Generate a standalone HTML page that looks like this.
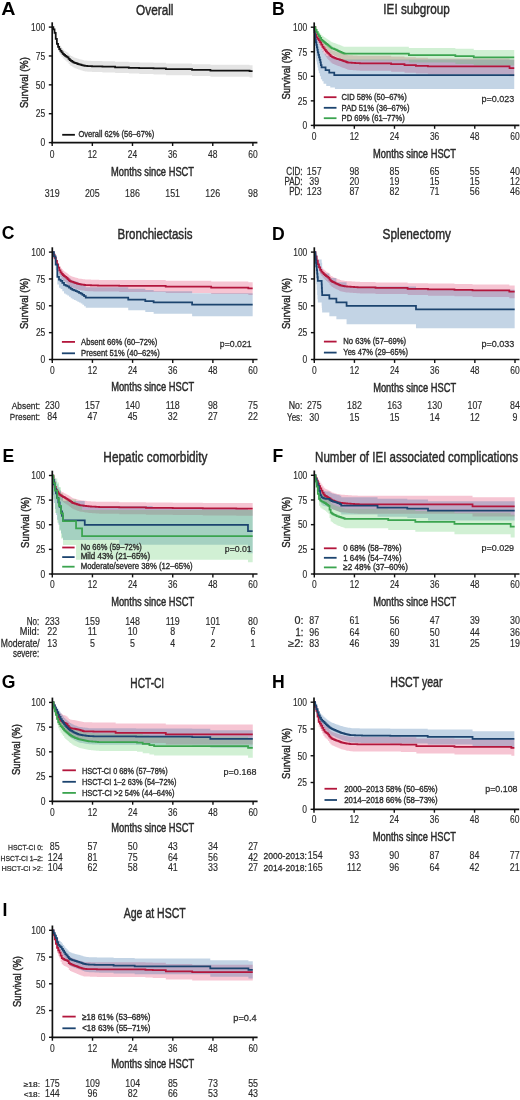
<!DOCTYPE html>
<html><head><meta charset="utf-8"><style>
html,body{margin:0;padding:0;background:#fff;width:520px;height:1100px;overflow:hidden}
svg{display:block;will-change:transform;font-family:"Liberation Sans",sans-serif}
</style></head><body>
<svg width="520" height="1100" viewBox="0 0 520 1100">
<rect width="520" height="1100" fill="#fff"/>
<path d="M52.20,27.10H53.37V28.02H54.54V30.80H55.71V35.94H56.88V40.40H58.05V43.08H59.22V45.17H60.40V46.79H61.57V48.19H62.74V49.49H63.91V50.39H65.08V51.28H66.25V52.03H67.42V52.71H68.59V54.14H69.76V55.36H70.93V55.98H72.10V56.60H73.27V57.23H74.44V57.75H75.61V58.12H76.79V58.48H77.96V58.85H79.13V59.20H80.30V59.50H81.47V59.81H82.64V60.11H83.81V60.40H84.98V60.50H86.15V60.61H87.32V60.71H88.49V60.81H89.66V60.85H90.83V60.89H92.01V60.92H93.18V60.96H94.35V61.00H102.38V61.32H115.09V61.84H128.80V62.24H139.17V62.54H153.55V62.84H165.93V63.46H192.02V64.16H210.42V64.66H249.56V65.22H252.57V77.57H249.56V76.74H210.42V76.08H192.02V75.15H165.93V74.39H153.55V73.98H139.17V73.59H128.80V73.07H115.09V72.42H102.38V72.01H94.35V71.96H93.18V71.91H92.01V71.87H90.83V71.82H89.66V71.77H88.49V71.65H87.32V71.52H86.15V71.40H84.98V71.28H83.81V70.94H82.64V70.58H81.47V70.23H80.30V69.87H79.13V69.46H77.96V69.04H76.79V68.61H75.61V68.18H74.44V67.57H73.27V66.84H72.10V66.11H70.93V65.38H69.76V63.96H68.59V62.28H67.42V61.48H66.25V60.60H65.08V59.54H63.91V58.48H62.74V56.93H61.57V55.26H60.40V53.32H59.22V50.79H58.05V47.50H56.88V41.88H55.71V34.94H54.54V30.56H53.37V27.10H52.20Z" fill="rgba(0,0,0,0.105)"/>
<path d="M52.20,27.10H53.37V29.25H54.54V32.81H55.71V38.83H56.88V43.85H58.05V46.83H59.22V49.13H60.40V50.90H61.57V52.44H62.74V53.86H63.91V54.84H65.08V55.81H66.25V56.62H67.42V57.36H68.59V58.91H69.76V60.23H70.93V60.90H72.10V61.58H73.27V62.25H74.44V62.82H75.61V63.22H76.79V63.61H77.96V64.01H79.13V64.39H80.30V64.72H81.47V65.05H82.64V65.38H83.81V65.69H84.98V65.80H86.15V65.91H87.32V66.03H88.49V66.14H89.66V66.18H90.83V66.22H92.01V66.26H93.18V66.30H94.35V66.35H102.38V66.72H115.09V67.29H128.80V67.76H139.17V68.10H153.55V68.45H165.93V69.14H192.02V69.95H210.42V70.53H249.56V71.22H252.57" fill="none" stroke="#111" stroke-width="1.75" stroke-linejoin="miter"/>
<line x1="52.20" y1="22.30" x2="52.20" y2="143.45" stroke="#111" stroke-width="1.7"/>
<line x1="51.35" y1="142.60" x2="257.40" y2="142.60" stroke="#111" stroke-width="1.7"/>
<line x1="48.80" y1="142.60" x2="52.20" y2="142.60" stroke="#111" stroke-width="1.4"/>
<text transform="translate(45.20,146.35) scale(0.7900,1)" font-size="10.7" text-anchor="end" fill="#2a2a2a" stroke="#2a2a2a" stroke-width="0.15">0</text>
<line x1="48.80" y1="113.72" x2="52.20" y2="113.72" stroke="#111" stroke-width="1.4"/>
<text transform="translate(45.20,117.47) scale(0.7900,1)" font-size="10.7" text-anchor="end" fill="#2a2a2a" stroke="#2a2a2a" stroke-width="0.15">25</text>
<line x1="48.80" y1="84.85" x2="52.20" y2="84.85" stroke="#111" stroke-width="1.4"/>
<text transform="translate(45.20,88.60) scale(0.7900,1)" font-size="10.7" text-anchor="end" fill="#2a2a2a" stroke="#2a2a2a" stroke-width="0.15">50</text>
<line x1="48.80" y1="55.97" x2="52.20" y2="55.97" stroke="#111" stroke-width="1.4"/>
<text transform="translate(45.20,59.72) scale(0.7900,1)" font-size="10.7" text-anchor="end" fill="#2a2a2a" stroke="#2a2a2a" stroke-width="0.15">75</text>
<line x1="48.80" y1="27.10" x2="52.20" y2="27.10" stroke="#111" stroke-width="1.4"/>
<text transform="translate(45.20,30.85) scale(0.7900,1)" font-size="10.7" text-anchor="end" fill="#2a2a2a" stroke="#2a2a2a" stroke-width="0.15">100</text>
<line x1="52.20" y1="142.60" x2="52.20" y2="146.00" stroke="#111" stroke-width="1.4"/>
<text transform="translate(52.20,157.60) scale(0.7900,1)" font-size="10.7" text-anchor="middle" fill="#2a2a2a" stroke="#2a2a2a" stroke-width="0.15">0</text>
<line x1="92.34" y1="142.60" x2="92.34" y2="146.00" stroke="#111" stroke-width="1.4"/>
<text transform="translate(92.34,157.60) scale(0.7900,1)" font-size="10.7" text-anchor="middle" fill="#2a2a2a" stroke="#2a2a2a" stroke-width="0.15">12</text>
<line x1="132.48" y1="142.60" x2="132.48" y2="146.00" stroke="#111" stroke-width="1.4"/>
<text transform="translate(132.48,157.60) scale(0.7900,1)" font-size="10.7" text-anchor="middle" fill="#2a2a2a" stroke="#2a2a2a" stroke-width="0.15">24</text>
<line x1="172.62" y1="142.60" x2="172.62" y2="146.00" stroke="#111" stroke-width="1.4"/>
<text transform="translate(172.62,157.60) scale(0.7900,1)" font-size="10.7" text-anchor="middle" fill="#2a2a2a" stroke="#2a2a2a" stroke-width="0.15">36</text>
<line x1="212.76" y1="142.60" x2="212.76" y2="146.00" stroke="#111" stroke-width="1.4"/>
<text transform="translate(212.76,157.60) scale(0.7900,1)" font-size="10.7" text-anchor="middle" fill="#2a2a2a" stroke="#2a2a2a" stroke-width="0.15">48</text>
<line x1="252.90" y1="142.60" x2="252.90" y2="146.00" stroke="#111" stroke-width="1.4"/>
<text transform="translate(252.90,157.60) scale(0.7900,1)" font-size="10.7" text-anchor="middle" fill="#2a2a2a" stroke="#2a2a2a" stroke-width="0.15">60</text>
<text transform="translate(27.90,82.55) rotate(-90) scale(0.8602,1)" font-size="11" text-anchor="middle" fill="#2a2a2a" stroke="#2a2a2a" stroke-width="0.45">Survival (%)</text>
<text transform="translate(152.55,175.90) scale(0.7779,1)" font-size="12" text-anchor="middle" fill="#2a2a2a" stroke="#2a2a2a" stroke-width="0.45">Months since HSCT</text>
<text transform="translate(1.30,14.80) scale(1.1200,1)" font-size="17.6" text-anchor="start" fill="#000" font-weight="bold">A</text>
<text transform="translate(154.80,14.60) scale(0.7871,1)" font-size="15" text-anchor="middle" fill="#2a2a2a" stroke="#2a2a2a" stroke-width="0.45">Overall</text>
<line x1="62.20" y1="134.80" x2="74.90" y2="134.80" stroke="#111" stroke-width="1.8"/>
<text transform="translate(78.50,137.00) scale(0.8371,1)" font-size="9" text-anchor="start" fill="#2a2a2a" stroke="#2a2a2a" stroke-width="0.35">Overall 62% (56–67%)</text>
<text transform="translate(52.20,196.80) scale(0.8300,1)" font-size="10.7" text-anchor="middle" fill="#2a2a2a" stroke="#2a2a2a" stroke-width="0.15">319</text>
<text transform="translate(92.34,196.80) scale(0.8300,1)" font-size="10.7" text-anchor="middle" fill="#2a2a2a" stroke="#2a2a2a" stroke-width="0.15">205</text>
<text transform="translate(132.48,196.80) scale(0.8300,1)" font-size="10.7" text-anchor="middle" fill="#2a2a2a" stroke="#2a2a2a" stroke-width="0.15">186</text>
<text transform="translate(172.62,196.80) scale(0.8300,1)" font-size="10.7" text-anchor="middle" fill="#2a2a2a" stroke="#2a2a2a" stroke-width="0.15">151</text>
<text transform="translate(212.76,196.80) scale(0.8300,1)" font-size="10.7" text-anchor="middle" fill="#2a2a2a" stroke="#2a2a2a" stroke-width="0.15">126</text>
<text transform="translate(252.90,196.80) scale(0.8300,1)" font-size="10.7" text-anchor="middle" fill="#2a2a2a" stroke="#2a2a2a" stroke-width="0.15">98</text>
<path d="M314.20,27.20H315.37V31.04H316.54V33.48H317.71V34.72H318.88V35.98H320.05V37.52H321.22V39.43H322.40V41.35H323.57V42.71H324.74V43.98H325.91V45.26H327.08V46.37H328.25V47.37H329.42V48.37H330.59V49.37H331.76V50.13H332.93V50.57H334.10V51.00H335.27V51.43H336.44V51.81H337.61V52.13H338.79V52.44H339.96V52.75H341.13V53.08H342.30V53.46H343.47V53.83H344.64V54.20H345.81V54.57H346.98V54.94H348.15V55.18H349.32V55.24H350.49V55.30H351.66V55.36H352.83V55.43H354.01V55.49H355.18V55.55H356.35V55.61H357.52V55.67H358.69V55.73H359.86V55.79H361.03V55.85H391.13V56.53H404.51V57.37H415.89V57.87H427.93V58.45H509.55V59.62H514.23V76.28H509.55V74.32H427.93V73.53H415.89V72.85H404.51V71.74H391.13V70.72H361.03V70.64H359.86V70.55H358.69V70.47H357.52V70.39H356.35V70.31H355.18V70.23H354.01V70.14H352.83V70.06H351.66V69.98H350.49V69.90H349.32V69.81H348.15V69.51H346.98V69.05H345.81V68.58H344.64V68.12H343.47V67.65H342.30V67.18H341.13V66.77H339.96V66.37H338.79V65.97H337.61V65.58H336.44V65.09H335.27V64.55H334.10V64.00H332.93V63.45H331.76V62.49H330.59V61.22H329.42V59.95H328.25V58.67H327.08V57.24H325.91V55.59H324.74V53.93H323.57V52.14H322.40V49.57H321.22V46.98H320.05V44.85H318.88V43.05H317.71V41.24H316.54V37.52H315.37V27.20H314.20Z" fill="rgba(226,62,108,0.30)"/>
<path d="M314.20,27.20H314.53V27.20H314.87V29.16H315.54V32.11H316.37V35.06H316.88V38.00H317.55V39.97H318.21V41.93H318.88V43.89H319.89V46.84H320.89V48.80H322.23V50.77H323.57V53.71H326.24V55.68H330.26V57.64H334.94V59.61H514.23V89.07H334.94V87.59H330.26V86.12H326.24V83.67H323.57V81.21H322.23V79.25H320.89V76.30H319.89V73.35H318.88V70.41H318.21V67.46H317.55V64.52H316.88V61.57H316.37V58.62H315.87V55.68H315.54V51.75H315.20V48.80H314.87V42.91H314.53V37.02H314.37V27.20H314.20Z" fill="rgba(40,100,160,0.28)"/>
<path d="M314.20,27.20H315.37V27.70H316.54V29.23H317.71V30.90H318.88V32.30H320.05V33.71H321.22V35.15H322.40V36.12H323.57V36.90H324.74V37.69H325.91V38.48H327.08V39.28H328.25V40.07H329.42V40.86H330.59V41.66H331.76V42.27H332.93V42.68H334.10V43.10H335.27V43.51H336.44V43.95H337.61V44.41H338.79V44.87H339.96V45.34H341.13V45.80H342.30V46.27H343.47V46.73H344.64V46.80H345.81V46.79H346.98V46.79H408.86V48.01H455.36V48.83H473.76V49.90H514.23V65.38H473.76V63.89H455.36V62.54H408.86V60.59H346.98V60.59H345.81V60.58H344.64V60.49H343.47V59.88H342.30V59.26H341.13V58.65H339.96V58.03H338.79V57.42H337.61V56.80H336.44V56.22H335.27V55.66H334.10V55.10H332.93V54.54H331.76V53.71H330.59V52.63H329.42V51.54H328.25V50.45H327.08V49.35H325.91V48.24H324.74V47.12H323.57V46.00H322.40V44.59H321.22V42.45H320.05V40.28H318.88V38.02H317.71V35.11H316.54V31.96H315.37V27.20H314.20Z" fill="rgba(90,200,100,0.28)"/>
<path d="M314.20,27.20H315.37V34.32H316.54V37.40H317.71V38.93H318.88V40.47H320.05V42.31H321.22V44.56H322.40V46.81H323.57V48.39H324.74V49.85H325.91V51.32H327.08V52.60H328.25V53.73H329.42V54.87H330.59V56.01H331.76V56.87H332.93V57.36H334.10V57.85H335.27V58.34H336.44V58.78H337.61V59.13H338.79V59.49H339.96V59.84H341.13V60.22H342.30V60.64H343.47V61.06H344.64V61.47H345.81V61.89H346.98V62.31H348.15V62.58H349.32V62.65H350.49V62.73H351.66V62.80H352.83V62.87H354.01V62.94H355.18V63.01H356.35V63.09H357.52V63.16H358.69V63.23H359.86V63.30H361.03V63.37H391.13V64.22H404.51V65.20H415.89V65.79H427.93V66.48H509.55V68.05H514.23" fill="none" stroke="#b3163c" stroke-width="1.75" stroke-linejoin="miter"/>
<path d="M314.20,27.20H314.37V29.75H314.53V32.21H314.87V34.76H315.20V37.31H315.54V39.77H315.87V42.32H316.37V44.78H316.88V47.33H317.38V49.88H317.81V52.34H318.38V54.89H319.05V57.45H319.72V59.90H320.39V62.45H320.89V65.01H321.56V67.46H325.57V70.02H329.25V72.57H334.27V75.02H514.23" fill="none" stroke="#1c446f" stroke-width="1.75" stroke-linejoin="miter"/>
<path d="M314.20,27.20H315.37V29.78H316.54V32.10H317.71V34.37H318.88V36.19H320.05V37.97H321.22V39.75H322.40V40.94H323.57V41.89H324.74V42.83H325.91V43.78H327.08V44.72H328.25V45.66H329.42V46.60H330.59V47.54H331.76V48.25H332.93V48.74H334.10V49.22H335.27V49.71H336.44V50.21H337.61V50.75H338.79V51.29H339.96V51.83H341.13V52.36H342.30V52.90H343.47V53.44H344.64V53.52H345.81V53.52H346.98V53.52H408.86V55.09H455.36V56.17H473.76V57.45H514.23" fill="none" stroke="#3ba44f" stroke-width="1.75" stroke-linejoin="miter"/>
<line x1="314.20" y1="22.40" x2="314.20" y2="126.25" stroke="#111" stroke-width="1.7"/>
<line x1="313.35" y1="125.40" x2="519.40" y2="125.40" stroke="#111" stroke-width="1.7"/>
<line x1="310.80" y1="125.40" x2="314.20" y2="125.40" stroke="#111" stroke-width="1.4"/>
<text transform="translate(307.20,129.15) scale(0.7900,1)" font-size="10.7" text-anchor="end" fill="#2a2a2a" stroke="#2a2a2a" stroke-width="0.15">0</text>
<line x1="310.80" y1="100.85" x2="314.20" y2="100.85" stroke="#111" stroke-width="1.4"/>
<text transform="translate(307.20,104.60) scale(0.7900,1)" font-size="10.7" text-anchor="end" fill="#2a2a2a" stroke="#2a2a2a" stroke-width="0.15">25</text>
<line x1="310.80" y1="76.30" x2="314.20" y2="76.30" stroke="#111" stroke-width="1.4"/>
<text transform="translate(307.20,80.05) scale(0.7900,1)" font-size="10.7" text-anchor="end" fill="#2a2a2a" stroke="#2a2a2a" stroke-width="0.15">50</text>
<line x1="310.80" y1="51.75" x2="314.20" y2="51.75" stroke="#111" stroke-width="1.4"/>
<text transform="translate(307.20,55.50) scale(0.7900,1)" font-size="10.7" text-anchor="end" fill="#2a2a2a" stroke="#2a2a2a" stroke-width="0.15">75</text>
<line x1="310.80" y1="27.20" x2="314.20" y2="27.20" stroke="#111" stroke-width="1.4"/>
<text transform="translate(307.20,30.95) scale(0.7900,1)" font-size="10.7" text-anchor="end" fill="#2a2a2a" stroke="#2a2a2a" stroke-width="0.15">100</text>
<line x1="314.20" y1="125.40" x2="314.20" y2="128.80" stroke="#111" stroke-width="1.4"/>
<text transform="translate(314.20,140.40) scale(0.7900,1)" font-size="10.7" text-anchor="middle" fill="#2a2a2a" stroke="#2a2a2a" stroke-width="0.15">0</text>
<line x1="354.34" y1="125.40" x2="354.34" y2="128.80" stroke="#111" stroke-width="1.4"/>
<text transform="translate(354.34,140.40) scale(0.7900,1)" font-size="10.7" text-anchor="middle" fill="#2a2a2a" stroke="#2a2a2a" stroke-width="0.15">12</text>
<line x1="394.48" y1="125.40" x2="394.48" y2="128.80" stroke="#111" stroke-width="1.4"/>
<text transform="translate(394.48,140.40) scale(0.7900,1)" font-size="10.7" text-anchor="middle" fill="#2a2a2a" stroke="#2a2a2a" stroke-width="0.15">24</text>
<line x1="434.62" y1="125.40" x2="434.62" y2="128.80" stroke="#111" stroke-width="1.4"/>
<text transform="translate(434.62,140.40) scale(0.7900,1)" font-size="10.7" text-anchor="middle" fill="#2a2a2a" stroke="#2a2a2a" stroke-width="0.15">36</text>
<line x1="474.76" y1="125.40" x2="474.76" y2="128.80" stroke="#111" stroke-width="1.4"/>
<text transform="translate(474.76,140.40) scale(0.7900,1)" font-size="10.7" text-anchor="middle" fill="#2a2a2a" stroke="#2a2a2a" stroke-width="0.15">48</text>
<line x1="514.90" y1="125.40" x2="514.90" y2="128.80" stroke="#111" stroke-width="1.4"/>
<text transform="translate(514.90,140.40) scale(0.7900,1)" font-size="10.7" text-anchor="middle" fill="#2a2a2a" stroke="#2a2a2a" stroke-width="0.15">60</text>
<text transform="translate(289.90,74.00) rotate(-90) scale(0.8602,1)" font-size="11" text-anchor="middle" fill="#2a2a2a" stroke="#2a2a2a" stroke-width="0.45">Survival (%)</text>
<text transform="translate(414.55,157.50) scale(0.7779,1)" font-size="12" text-anchor="middle" fill="#2a2a2a" stroke="#2a2a2a" stroke-width="0.45">Months since HSCT</text>
<text transform="translate(272.10,14.80) scale(1.0000,1)" font-size="17.6" text-anchor="start" fill="#000" font-weight="bold">B</text>
<text transform="translate(416.50,14.40) scale(0.7806,1)" font-size="15" text-anchor="middle" fill="#2a2a2a" stroke="#2a2a2a" stroke-width="0.45">IEI subgroup</text>
<line x1="323.80" y1="97.20" x2="336.50" y2="97.20" stroke="#b3163c" stroke-width="1.8"/>
<text transform="translate(341.60,100.40) scale(0.8422,1)" font-size="9" text-anchor="start" fill="#2a2a2a" stroke="#2a2a2a" stroke-width="0.35">CID 58% (50–67%)</text>
<line x1="323.80" y1="107.80" x2="336.50" y2="107.80" stroke="#1c446f" stroke-width="1.8"/>
<text transform="translate(341.60,110.70) scale(0.8501,1)" font-size="9" text-anchor="start" fill="#2a2a2a" stroke="#2a2a2a" stroke-width="0.35">PAD 51% (36–67%)</text>
<line x1="323.80" y1="118.20" x2="336.50" y2="118.20" stroke="#3ba44f" stroke-width="1.8"/>
<text transform="translate(341.60,121.00) scale(0.8492,1)" font-size="9" text-anchor="start" fill="#2a2a2a" stroke="#2a2a2a" stroke-width="0.35">PD 69% (61–77%)</text>
<text transform="translate(497.95,101.50) scale(0.9507,1)" font-size="9.5" text-anchor="middle" fill="#2a2a2a" stroke="#2a2a2a" stroke-width="0.25">p=0.023</text>
<text transform="translate(286.30,174.50) scale(0.8150,1)" font-size="10" text-anchor="start" fill="#2a2a2a" stroke="#2a2a2a" stroke-width="0.25">CID:</text>
<text transform="translate(314.20,174.50) scale(0.8300,1)" font-size="10.7" text-anchor="middle" fill="#2a2a2a" stroke="#2a2a2a" stroke-width="0.15">157</text>
<text transform="translate(354.34,174.50) scale(0.8300,1)" font-size="10.7" text-anchor="middle" fill="#2a2a2a" stroke="#2a2a2a" stroke-width="0.15">98</text>
<text transform="translate(394.48,174.50) scale(0.8300,1)" font-size="10.7" text-anchor="middle" fill="#2a2a2a" stroke="#2a2a2a" stroke-width="0.15">85</text>
<text transform="translate(434.62,174.50) scale(0.8300,1)" font-size="10.7" text-anchor="middle" fill="#2a2a2a" stroke="#2a2a2a" stroke-width="0.15">65</text>
<text transform="translate(474.76,174.50) scale(0.8300,1)" font-size="10.7" text-anchor="middle" fill="#2a2a2a" stroke="#2a2a2a" stroke-width="0.15">55</text>
<text transform="translate(514.90,174.50) scale(0.8300,1)" font-size="10.7" text-anchor="middle" fill="#2a2a2a" stroke="#2a2a2a" stroke-width="0.15">40</text>
<text transform="translate(284.40,185.10) scale(0.8054,1)" font-size="10" text-anchor="start" fill="#2a2a2a" stroke="#2a2a2a" stroke-width="0.25">PAD:</text>
<text transform="translate(314.20,185.10) scale(0.8300,1)" font-size="10.7" text-anchor="middle" fill="#2a2a2a" stroke="#2a2a2a" stroke-width="0.15">39</text>
<text transform="translate(354.34,185.10) scale(0.8300,1)" font-size="10.7" text-anchor="middle" fill="#2a2a2a" stroke="#2a2a2a" stroke-width="0.15">20</text>
<text transform="translate(394.48,185.10) scale(0.8300,1)" font-size="10.7" text-anchor="middle" fill="#2a2a2a" stroke="#2a2a2a" stroke-width="0.15">19</text>
<text transform="translate(434.62,185.10) scale(0.8300,1)" font-size="10.7" text-anchor="middle" fill="#2a2a2a" stroke="#2a2a2a" stroke-width="0.15">15</text>
<text transform="translate(474.76,185.10) scale(0.8300,1)" font-size="10.7" text-anchor="middle" fill="#2a2a2a" stroke="#2a2a2a" stroke-width="0.15">15</text>
<text transform="translate(514.90,185.10) scale(0.8300,1)" font-size="10.7" text-anchor="middle" fill="#2a2a2a" stroke="#2a2a2a" stroke-width="0.15">12</text>
<text transform="translate(289.20,195.40) scale(0.8038,1)" font-size="10" text-anchor="start" fill="#2a2a2a" stroke="#2a2a2a" stroke-width="0.25">PD:</text>
<text transform="translate(314.20,195.40) scale(0.8300,1)" font-size="10.7" text-anchor="middle" fill="#2a2a2a" stroke="#2a2a2a" stroke-width="0.15">123</text>
<text transform="translate(354.34,195.40) scale(0.8300,1)" font-size="10.7" text-anchor="middle" fill="#2a2a2a" stroke="#2a2a2a" stroke-width="0.15">87</text>
<text transform="translate(394.48,195.40) scale(0.8300,1)" font-size="10.7" text-anchor="middle" fill="#2a2a2a" stroke="#2a2a2a" stroke-width="0.15">82</text>
<text transform="translate(434.62,195.40) scale(0.8300,1)" font-size="10.7" text-anchor="middle" fill="#2a2a2a" stroke="#2a2a2a" stroke-width="0.15">71</text>
<text transform="translate(474.76,195.40) scale(0.8300,1)" font-size="10.7" text-anchor="middle" fill="#2a2a2a" stroke="#2a2a2a" stroke-width="0.15">56</text>
<text transform="translate(514.90,195.40) scale(0.8300,1)" font-size="10.7" text-anchor="middle" fill="#2a2a2a" stroke="#2a2a2a" stroke-width="0.15">46</text>
<path d="M52.30,252.10H53.47V253.30H54.64V255.53H55.81V257.95H56.98V260.98H58.15V263.80H59.32V266.29H60.50V267.99H61.67V269.37H62.84V270.59H64.01V271.38H65.18V272.17H66.35V272.97H67.52V274.05H68.69V275.13H69.86V275.84H71.03V276.26H72.20V276.68H73.37V277.10H74.54V277.48H75.71V277.80H76.89V278.11H78.06V278.43H79.23V278.68H80.40V278.83H81.57V278.98H82.74V279.13H83.91V279.29H85.08V279.44H86.25V279.51H87.42V279.54H88.59V279.58H89.76V279.62H90.93V279.65H92.11V279.69H93.28V279.73H94.45V279.76H95.62V279.80H96.79V279.84H97.96V279.87H99.13V279.91H119.20V280.10H165.70V280.79H211.19V281.48H248.32V282.18H252.67V295.05H248.32V294.03H211.19V292.98H165.70V291.94H119.20V291.62H99.13V291.57H97.96V291.52H96.79V291.48H95.62V291.43H94.45V291.38H93.28V291.33H92.11V291.28H90.93V291.23H89.76V291.18H88.59V291.13H87.42V291.08H86.25V290.99H85.08V290.81H83.91V290.62H82.74V290.43H81.57V290.24H80.40V290.06H79.23V289.76H78.06V289.37H76.89V288.99H75.71V288.61H74.54V288.15H73.37V287.64H72.20V287.12H71.03V286.61H69.86V285.75H68.69V284.44H67.52V283.12H66.35V282.15H65.18V281.17H64.01V280.19H62.84V278.68H61.67V276.96H60.50V274.82H59.32V271.65H58.15V267.96H56.98V263.83H55.81V260.30H54.64V256.65H53.47V252.10H52.30Z" fill="rgba(226,62,108,0.30)"/>
<path d="M52.30,252.10H53.97V253.25H55.64V259.18H57.32V269.38H58.99V271.72H60.66V272.64H62.33V274.48H64.01V276.11H65.68V276.82H67.35V277.54H69.02V278.59H70.70V279.64H72.37V280.41H74.04V281.01H75.72V281.61H77.39V282.33H79.06V283.07H80.73V283.82H82.41V284.75H84.08V285.96H85.75V287.18H128.23V288.84H145.29V290.11H153.65V291.31H192.12V293.16H252.67V316.29H192.12V313.63H153.65V312.04H145.29V310.30H128.23V307.85H85.75V306.30H84.08V304.76H82.41V303.56H80.73V302.60H79.06V301.64H77.39V300.71H75.72V299.93H74.04V299.15H72.37V298.13H70.70V296.77H69.02V295.40H67.35V294.45H65.68V293.51H64.01V291.36H62.33V288.91H60.66V287.68H58.99V284.51H57.32V269.88H55.64V259.54H53.97V252.10H52.30Z" fill="rgba(40,100,160,0.28)"/>
<path d="M52.30,252.10H53.47V254.92H54.64V257.84H55.81V260.79H56.98V264.35H58.15V267.59H59.32V270.41H60.50V272.32H61.67V273.87H62.84V275.23H64.01V276.11H65.18V276.99H66.35V277.88H67.52V279.07H68.69V280.26H69.86V281.04H71.03V281.51H72.20V281.98H73.37V282.44H74.54V282.86H75.71V283.21H76.89V283.56H78.06V283.91H79.23V284.18H80.40V284.35H81.57V284.52H82.74V284.69H83.91V284.85H85.08V285.02H86.25V285.10H87.42V285.15H88.59V285.19H89.76V285.23H90.93V285.27H92.11V285.32H93.28V285.36H94.45V285.40H95.62V285.44H96.79V285.49H97.96V285.53H99.13V285.57H119.20V285.82H165.70V286.68H211.19V287.54H248.32V288.40H252.67" fill="none" stroke="#b3163c" stroke-width="1.75" stroke-linejoin="miter"/>
<path d="M52.30,252.10H53.97V256.40H55.64V264.53H57.32V276.95H58.99V279.70H60.66V280.78H62.33V282.92H64.01V284.81H65.68V285.64H67.35V286.47H69.02V287.68H70.70V288.88H72.37V289.78H74.04V290.47H75.72V291.16H77.39V291.98H79.06V292.84H80.73V293.69H82.41V294.75H84.08V296.13H85.75V297.51H128.23V299.57H145.29V301.07H153.65V302.47H192.12V304.73H252.67" fill="none" stroke="#1c446f" stroke-width="1.75" stroke-linejoin="miter"/>
<line x1="52.30" y1="247.30" x2="52.30" y2="360.35" stroke="#111" stroke-width="1.7"/>
<line x1="51.45" y1="359.50" x2="257.50" y2="359.50" stroke="#111" stroke-width="1.7"/>
<line x1="48.90" y1="359.50" x2="52.30" y2="359.50" stroke="#111" stroke-width="1.4"/>
<text transform="translate(45.30,363.25) scale(0.7900,1)" font-size="10.7" text-anchor="end" fill="#2a2a2a" stroke="#2a2a2a" stroke-width="0.15">0</text>
<line x1="48.90" y1="332.65" x2="52.30" y2="332.65" stroke="#111" stroke-width="1.4"/>
<text transform="translate(45.30,336.40) scale(0.7900,1)" font-size="10.7" text-anchor="end" fill="#2a2a2a" stroke="#2a2a2a" stroke-width="0.15">25</text>
<line x1="48.90" y1="305.80" x2="52.30" y2="305.80" stroke="#111" stroke-width="1.4"/>
<text transform="translate(45.30,309.55) scale(0.7900,1)" font-size="10.7" text-anchor="end" fill="#2a2a2a" stroke="#2a2a2a" stroke-width="0.15">50</text>
<line x1="48.90" y1="278.95" x2="52.30" y2="278.95" stroke="#111" stroke-width="1.4"/>
<text transform="translate(45.30,282.70) scale(0.7900,1)" font-size="10.7" text-anchor="end" fill="#2a2a2a" stroke="#2a2a2a" stroke-width="0.15">75</text>
<line x1="48.90" y1="252.10" x2="52.30" y2="252.10" stroke="#111" stroke-width="1.4"/>
<text transform="translate(45.30,255.85) scale(0.7900,1)" font-size="10.7" text-anchor="end" fill="#2a2a2a" stroke="#2a2a2a" stroke-width="0.15">100</text>
<line x1="52.30" y1="359.50" x2="52.30" y2="362.90" stroke="#111" stroke-width="1.4"/>
<text transform="translate(52.30,374.25) scale(0.7900,1)" font-size="10.7" text-anchor="middle" fill="#2a2a2a" stroke="#2a2a2a" stroke-width="0.15">0</text>
<line x1="92.44" y1="359.50" x2="92.44" y2="362.90" stroke="#111" stroke-width="1.4"/>
<text transform="translate(92.44,374.25) scale(0.7900,1)" font-size="10.7" text-anchor="middle" fill="#2a2a2a" stroke="#2a2a2a" stroke-width="0.15">12</text>
<line x1="132.58" y1="359.50" x2="132.58" y2="362.90" stroke="#111" stroke-width="1.4"/>
<text transform="translate(132.58,374.25) scale(0.7900,1)" font-size="10.7" text-anchor="middle" fill="#2a2a2a" stroke="#2a2a2a" stroke-width="0.15">24</text>
<line x1="172.72" y1="359.50" x2="172.72" y2="362.90" stroke="#111" stroke-width="1.4"/>
<text transform="translate(172.72,374.25) scale(0.7900,1)" font-size="10.7" text-anchor="middle" fill="#2a2a2a" stroke="#2a2a2a" stroke-width="0.15">36</text>
<line x1="212.86" y1="359.50" x2="212.86" y2="362.90" stroke="#111" stroke-width="1.4"/>
<text transform="translate(212.86,374.25) scale(0.7900,1)" font-size="10.7" text-anchor="middle" fill="#2a2a2a" stroke="#2a2a2a" stroke-width="0.15">48</text>
<line x1="253.00" y1="359.50" x2="253.00" y2="362.90" stroke="#111" stroke-width="1.4"/>
<text transform="translate(253.00,374.25) scale(0.7900,1)" font-size="10.7" text-anchor="middle" fill="#2a2a2a" stroke="#2a2a2a" stroke-width="0.15">60</text>
<text transform="translate(28.00,303.50) rotate(-90) scale(0.8602,1)" font-size="11" text-anchor="middle" fill="#2a2a2a" stroke="#2a2a2a" stroke-width="0.45">Survival (%)</text>
<text transform="translate(152.65,391.25) scale(0.7779,1)" font-size="12" text-anchor="middle" fill="#2a2a2a" stroke="#2a2a2a" stroke-width="0.45">Months since HSCT</text>
<text transform="translate(1.70,239.40) scale(1.0000,1)" font-size="17.6" text-anchor="start" fill="#000" font-weight="bold">C</text>
<text transform="translate(155.00,238.60) scale(0.7689,1)" font-size="15" text-anchor="middle" fill="#2a2a2a" stroke="#2a2a2a" stroke-width="0.45">Bronchiectasis</text>
<line x1="61.90" y1="341.90" x2="75.00" y2="341.90" stroke="#b3163c" stroke-width="1.8"/>
<text transform="translate(81.10,344.50) scale(0.8494,1)" font-size="9" text-anchor="start" fill="#2a2a2a" stroke="#2a2a2a" stroke-width="0.35">Absent 66% (60–72%)</text>
<line x1="61.90" y1="353.30" x2="75.00" y2="353.30" stroke="#1c446f" stroke-width="1.8"/>
<text transform="translate(81.10,355.60) scale(0.8468,1)" font-size="9" text-anchor="start" fill="#2a2a2a" stroke="#2a2a2a" stroke-width="0.35">Present 51% (40–62%)</text>
<text transform="translate(235.75,346.50) scale(0.9218,1)" font-size="9.5" text-anchor="middle" fill="#2a2a2a" stroke="#2a2a2a" stroke-width="0.25">p=0.021</text>
<text transform="translate(11.80,408.90) scale(0.8693,1)" font-size="9.6" text-anchor="start" fill="#2a2a2a" stroke="#2a2a2a" stroke-width="0.25">Absent:</text>
<text transform="translate(52.30,408.90) scale(0.8300,1)" font-size="10.7" text-anchor="middle" fill="#2a2a2a" stroke="#2a2a2a" stroke-width="0.15">230</text>
<text transform="translate(92.44,408.90) scale(0.8300,1)" font-size="10.7" text-anchor="middle" fill="#2a2a2a" stroke="#2a2a2a" stroke-width="0.15">157</text>
<text transform="translate(132.58,408.90) scale(0.8300,1)" font-size="10.7" text-anchor="middle" fill="#2a2a2a" stroke="#2a2a2a" stroke-width="0.15">140</text>
<text transform="translate(172.72,408.90) scale(0.8300,1)" font-size="10.7" text-anchor="middle" fill="#2a2a2a" stroke="#2a2a2a" stroke-width="0.15">118</text>
<text transform="translate(212.86,408.90) scale(0.8300,1)" font-size="10.7" text-anchor="middle" fill="#2a2a2a" stroke="#2a2a2a" stroke-width="0.15">98</text>
<text transform="translate(253.00,408.90) scale(0.8300,1)" font-size="10.7" text-anchor="middle" fill="#2a2a2a" stroke="#2a2a2a" stroke-width="0.15">75</text>
<text transform="translate(9.80,419.90) scale(0.8475,1)" font-size="9.6" text-anchor="start" fill="#2a2a2a" stroke="#2a2a2a" stroke-width="0.25">Present:</text>
<text transform="translate(52.30,419.90) scale(0.8300,1)" font-size="10.7" text-anchor="middle" fill="#2a2a2a" stroke="#2a2a2a" stroke-width="0.15">84</text>
<text transform="translate(92.44,419.90) scale(0.8300,1)" font-size="10.7" text-anchor="middle" fill="#2a2a2a" stroke="#2a2a2a" stroke-width="0.15">47</text>
<text transform="translate(132.58,419.90) scale(0.8300,1)" font-size="10.7" text-anchor="middle" fill="#2a2a2a" stroke="#2a2a2a" stroke-width="0.15">45</text>
<text transform="translate(172.72,419.90) scale(0.8300,1)" font-size="10.7" text-anchor="middle" fill="#2a2a2a" stroke="#2a2a2a" stroke-width="0.15">32</text>
<text transform="translate(212.86,419.90) scale(0.8300,1)" font-size="10.7" text-anchor="middle" fill="#2a2a2a" stroke="#2a2a2a" stroke-width="0.15">27</text>
<text transform="translate(253.00,419.90) scale(0.8300,1)" font-size="10.7" text-anchor="middle" fill="#2a2a2a" stroke="#2a2a2a" stroke-width="0.15">22</text>
<path d="M314.30,252.10H315.47V254.68H316.64V258.03H317.81V261.26H318.98V263.90H320.15V266.07H321.32V267.58H322.50V268.78H323.67V269.85H324.84V270.85H326.01V271.65H327.18V272.45H328.35V273.25H329.52V274.79H330.69V276.05H331.86V276.59H333.03V277.14H334.20V277.68H335.37V278.23H336.54V278.73H337.71V279.17H338.89V279.61H340.06V280.05H341.23V280.39H342.40V280.57H343.57V280.75H344.74V280.93H345.91V281.10H347.08V281.17H348.25V281.24H349.42V281.30H350.59V281.37H351.76V281.44H352.93V281.51H354.11V281.58H355.28V281.65H356.45V281.71H357.62V281.78H358.79V281.85H359.96V281.92H361.13V281.99H375.51V282.42H407.63V283.14H428.03V283.60H454.46V283.94H472.52V284.49H509.31V285.41H514.67V298.27H509.31V297.02H472.52V296.27H454.46V295.75H428.03V295.12H407.63V294.11H375.51V293.54H361.13V293.46H359.96V293.37H358.79V293.28H357.62V293.20H356.45V293.11H355.28V293.03H354.11V292.94H352.93V292.86H351.76V292.77H350.59V292.68H349.42V292.60H348.25V292.51H347.08V292.43H345.91V292.22H344.74V292.00H343.57V291.78H342.40V291.56H341.23V291.17H340.06V290.64H338.89V290.11H337.71V289.58H336.54V288.98H335.37V288.33H334.20V287.67H333.03V287.02H331.86V286.36H330.69V284.85H329.52V282.99H328.35V282.02H327.18V281.04H326.01V280.07H324.84V278.84H323.67V277.52H322.50V276.03H321.32V274.14H320.15V271.39H318.98V267.98H317.81V263.63H316.64V258.74H315.47V252.10H314.30Z" fill="rgba(226,62,108,0.30)"/>
<path d="M314.30,252.10H315.64V252.10H316.31V253.17H317.14V255.32H317.81V259.62H321.66V262.84H322.16V273.58H329.35V277.88H336.38V282.17H346.58V286.47H415.99V289.69H514.67V328.25H415.99V324.27H346.58V319.23H336.38V316.33H329.35V312.46H322.16V310.10H321.99V307.95H321.83V305.80H321.66V302.58H317.81V299.36H317.48V295.06H317.14V289.69H316.81V284.32H316.31V278.95H315.97V273.58H315.64V268.21H315.30V252.10H314.30Z" fill="rgba(40,100,160,0.28)"/>
<path d="M314.30,252.10H315.47V256.61H316.64V260.69H317.81V264.45H318.98V267.46H320.15V269.90H321.32V271.59H322.50V272.93H323.67V274.12H324.84V275.23H326.01V276.11H327.18V276.99H328.35V277.88H329.52V279.57H330.69V280.95H331.86V281.54H333.03V282.14H334.20V282.74H335.37V283.33H336.54V283.88H337.71V284.37H338.89V284.85H340.06V285.33H341.23V285.69H342.40V285.90H343.57V286.10H344.74V286.30H345.91V286.48H347.08V286.56H348.25V286.63H349.42V286.71H350.59V286.79H351.76V286.86H352.93V286.94H354.11V287.02H355.28V287.09H356.45V287.17H357.62V287.25H358.79V287.32H359.96V287.40H361.13V287.48H375.51V287.97H407.63V288.83H428.03V289.37H454.46V289.80H472.52V290.44H509.31V291.52H514.67" fill="none" stroke="#b3163c" stroke-width="1.75" stroke-linejoin="miter"/>
<path d="M314.30,252.10H315.30V255.64H315.64V259.30H315.97V262.84H316.31V266.38H316.81V270.04H317.14V273.58H317.48V277.12H317.81V280.78H321.66V284.32H321.83V287.86H321.99V291.52H322.16V295.06H329.35V298.60H336.38V302.26H346.58V305.80H415.99V309.34H514.67" fill="none" stroke="#1c446f" stroke-width="1.75" stroke-linejoin="miter"/>
<line x1="314.30" y1="247.30" x2="314.30" y2="360.35" stroke="#111" stroke-width="1.7"/>
<line x1="313.45" y1="359.50" x2="519.50" y2="359.50" stroke="#111" stroke-width="1.7"/>
<line x1="310.90" y1="359.50" x2="314.30" y2="359.50" stroke="#111" stroke-width="1.4"/>
<text transform="translate(307.30,363.25) scale(0.7900,1)" font-size="10.7" text-anchor="end" fill="#2a2a2a" stroke="#2a2a2a" stroke-width="0.15">0</text>
<line x1="310.90" y1="332.65" x2="314.30" y2="332.65" stroke="#111" stroke-width="1.4"/>
<text transform="translate(307.30,336.40) scale(0.7900,1)" font-size="10.7" text-anchor="end" fill="#2a2a2a" stroke="#2a2a2a" stroke-width="0.15">25</text>
<line x1="310.90" y1="305.80" x2="314.30" y2="305.80" stroke="#111" stroke-width="1.4"/>
<text transform="translate(307.30,309.55) scale(0.7900,1)" font-size="10.7" text-anchor="end" fill="#2a2a2a" stroke="#2a2a2a" stroke-width="0.15">50</text>
<line x1="310.90" y1="278.95" x2="314.30" y2="278.95" stroke="#111" stroke-width="1.4"/>
<text transform="translate(307.30,282.70) scale(0.7900,1)" font-size="10.7" text-anchor="end" fill="#2a2a2a" stroke="#2a2a2a" stroke-width="0.15">75</text>
<line x1="310.90" y1="252.10" x2="314.30" y2="252.10" stroke="#111" stroke-width="1.4"/>
<text transform="translate(307.30,255.85) scale(0.7900,1)" font-size="10.7" text-anchor="end" fill="#2a2a2a" stroke="#2a2a2a" stroke-width="0.15">100</text>
<line x1="314.30" y1="359.50" x2="314.30" y2="362.90" stroke="#111" stroke-width="1.4"/>
<text transform="translate(314.30,374.30) scale(0.7900,1)" font-size="10.7" text-anchor="middle" fill="#2a2a2a" stroke="#2a2a2a" stroke-width="0.15">0</text>
<line x1="354.44" y1="359.50" x2="354.44" y2="362.90" stroke="#111" stroke-width="1.4"/>
<text transform="translate(354.44,374.30) scale(0.7900,1)" font-size="10.7" text-anchor="middle" fill="#2a2a2a" stroke="#2a2a2a" stroke-width="0.15">12</text>
<line x1="394.58" y1="359.50" x2="394.58" y2="362.90" stroke="#111" stroke-width="1.4"/>
<text transform="translate(394.58,374.30) scale(0.7900,1)" font-size="10.7" text-anchor="middle" fill="#2a2a2a" stroke="#2a2a2a" stroke-width="0.15">24</text>
<line x1="434.72" y1="359.50" x2="434.72" y2="362.90" stroke="#111" stroke-width="1.4"/>
<text transform="translate(434.72,374.30) scale(0.7900,1)" font-size="10.7" text-anchor="middle" fill="#2a2a2a" stroke="#2a2a2a" stroke-width="0.15">36</text>
<line x1="474.86" y1="359.50" x2="474.86" y2="362.90" stroke="#111" stroke-width="1.4"/>
<text transform="translate(474.86,374.30) scale(0.7900,1)" font-size="10.7" text-anchor="middle" fill="#2a2a2a" stroke="#2a2a2a" stroke-width="0.15">48</text>
<line x1="515.00" y1="359.50" x2="515.00" y2="362.90" stroke="#111" stroke-width="1.4"/>
<text transform="translate(515.00,374.30) scale(0.7900,1)" font-size="10.7" text-anchor="middle" fill="#2a2a2a" stroke="#2a2a2a" stroke-width="0.15">60</text>
<text transform="translate(290.00,303.50) rotate(-90) scale(0.8602,1)" font-size="11" text-anchor="middle" fill="#2a2a2a" stroke="#2a2a2a" stroke-width="0.45">Survival (%)</text>
<text transform="translate(414.65,392.30) scale(0.7779,1)" font-size="12" text-anchor="middle" fill="#2a2a2a" stroke="#2a2a2a" stroke-width="0.45">Months since HSCT</text>
<text transform="translate(272.10,239.50) scale(1.0000,1)" font-size="17.6" text-anchor="start" fill="#000" font-weight="bold">D</text>
<text transform="translate(416.75,238.80) scale(0.7900,1)" font-size="15" text-anchor="middle" fill="#2a2a2a" stroke="#2a2a2a" stroke-width="0.45">Splenectomy</text>
<line x1="323.90" y1="341.60" x2="336.60" y2="341.60" stroke="#b3163c" stroke-width="1.8"/>
<text transform="translate(343.30,344.40) scale(0.8566,1)" font-size="9" text-anchor="start" fill="#2a2a2a" stroke="#2a2a2a" stroke-width="0.35">No 63% (57–69%)</text>
<line x1="323.90" y1="352.60" x2="336.60" y2="352.60" stroke="#1c446f" stroke-width="1.8"/>
<text transform="translate(343.30,355.00) scale(0.8433,1)" font-size="9" text-anchor="start" fill="#2a2a2a" stroke="#2a2a2a" stroke-width="0.35">Yes 47% (29–65%)</text>
<text transform="translate(497.95,346.50) scale(0.9507,1)" font-size="9.5" text-anchor="middle" fill="#2a2a2a" stroke="#2a2a2a" stroke-width="0.25">p=0.033</text>
<text transform="translate(288.80,409.30) scale(0.8739,1)" font-size="10" text-anchor="start" fill="#2a2a2a" stroke="#2a2a2a" stroke-width="0.25">No:</text>
<text transform="translate(314.30,409.30) scale(0.8300,1)" font-size="10.7" text-anchor="middle" fill="#2a2a2a" stroke="#2a2a2a" stroke-width="0.15">275</text>
<text transform="translate(354.44,409.30) scale(0.8300,1)" font-size="10.7" text-anchor="middle" fill="#2a2a2a" stroke="#2a2a2a" stroke-width="0.15">182</text>
<text transform="translate(394.58,409.30) scale(0.8300,1)" font-size="10.7" text-anchor="middle" fill="#2a2a2a" stroke="#2a2a2a" stroke-width="0.15">163</text>
<text transform="translate(434.72,409.30) scale(0.8300,1)" font-size="10.7" text-anchor="middle" fill="#2a2a2a" stroke="#2a2a2a" stroke-width="0.15">130</text>
<text transform="translate(474.86,409.30) scale(0.8300,1)" font-size="10.7" text-anchor="middle" fill="#2a2a2a" stroke="#2a2a2a" stroke-width="0.15">107</text>
<text transform="translate(515.00,409.30) scale(0.8300,1)" font-size="10.7" text-anchor="middle" fill="#2a2a2a" stroke="#2a2a2a" stroke-width="0.15">84</text>
<text transform="translate(287.00,420.50) scale(0.8066,1)" font-size="10" text-anchor="start" fill="#2a2a2a" stroke="#2a2a2a" stroke-width="0.25">Yes:</text>
<text transform="translate(314.30,420.50) scale(0.8300,1)" font-size="10.7" text-anchor="middle" fill="#2a2a2a" stroke="#2a2a2a" stroke-width="0.15">30</text>
<text transform="translate(354.44,420.50) scale(0.8300,1)" font-size="10.7" text-anchor="middle" fill="#2a2a2a" stroke="#2a2a2a" stroke-width="0.15">15</text>
<text transform="translate(394.58,420.50) scale(0.8300,1)" font-size="10.7" text-anchor="middle" fill="#2a2a2a" stroke="#2a2a2a" stroke-width="0.15">15</text>
<text transform="translate(434.72,420.50) scale(0.8300,1)" font-size="10.7" text-anchor="middle" fill="#2a2a2a" stroke="#2a2a2a" stroke-width="0.15">14</text>
<text transform="translate(474.86,420.50) scale(0.8300,1)" font-size="10.7" text-anchor="middle" fill="#2a2a2a" stroke="#2a2a2a" stroke-width="0.15">12</text>
<text transform="translate(515.00,420.50) scale(0.8300,1)" font-size="10.7" text-anchor="middle" fill="#2a2a2a" stroke="#2a2a2a" stroke-width="0.15">9</text>
<path d="M52.30,475.50H53.47V480.01H54.64V483.71H55.81V486.35H56.98V487.96H58.15V489.59H59.32V490.65H60.50V491.30H61.67V491.95H62.84V492.58H64.01V493.20H65.18V493.82H66.35V494.44H67.52V495.08H68.69V495.81H69.86V496.54H71.03V497.27H72.20V498.00H73.37V498.40H74.54V498.74H75.71V499.08H76.89V499.43H78.06V499.77H79.23V500.11H80.40V500.29H81.57V500.43H82.74V500.57H83.91V500.72H85.08V500.86H86.25V501.00H87.42V501.15H88.59V501.26H89.76V501.32H90.93V501.39H92.11V501.45H93.28V501.52H94.45V501.58H95.62V501.65H96.79V501.71H97.96V501.78H99.13V501.84H119.20V502.17H145.96V502.48H172.72V502.70H202.82V502.91H236.27V503.11H252.67V515.84H236.27V515.43H202.82V515.03H172.72V514.64H145.96V514.14H119.20V513.65H99.13V513.57H97.96V513.48H96.79V513.40H95.62V513.32H94.45V513.23H93.28V513.15H92.11V513.06H90.93V512.98H89.76V512.90H88.59V512.76H87.42V512.58H86.25V512.40H85.08V512.22H83.91V512.04H82.74V511.87H81.57V511.69H80.40V511.47H79.23V511.05H78.06V510.63H76.89V510.21H75.71V509.79H74.54V509.36H73.37V508.87H72.20V507.98H71.03V507.08H69.86V506.18H68.69V505.27H67.52V504.48H66.35V503.71H65.18V502.93H64.01V502.15H62.84V501.36H61.67V500.54H60.50V499.72H59.32V498.36H58.15V496.27H56.98V494.17H55.81V490.64H54.64V485.44H53.47V475.50H52.30Z" fill="rgba(226,62,108,0.30)"/>
<path d="M52.30,475.50H52.97V475.50H53.97V476.49H54.98V478.45H55.98V481.41H56.98V484.37H58.32V487.32H59.66V490.27H61.00V494.22H62.00V497.17H63.00V501.11H84.75V506.03H152.65V508.00H247.98V509.98H252.67V553.32H247.98V544.84H119.20V539.92H63.00V537.55H62.00V533.62H61.00V529.67H59.66V524.75H58.32V519.83H56.98V514.90H55.98V508.99H54.98V503.08H53.97V495.20H52.97V475.50H52.30Z" fill="rgba(40,100,160,0.28)"/>
<path d="M52.30,475.50H53.30V475.50H54.98V478.45H57.32V482.39H58.99V487.32H61.00V493.23H63.00V499.14H76.05V505.05H82.07V509.98H252.67V562.18H247.98V559.82H76.05V544.94H63.00V538.54H61.00V530.66H58.99V522.78H57.32V512.93H54.98V499.14H53.30V475.50H52.30Z" fill="rgba(90,200,100,0.28)"/>
<path d="M52.30,475.50H53.47V482.39H54.64V486.75H55.81V489.78H56.98V491.60H58.15V493.43H59.32V494.63H60.50V495.35H61.67V496.08H62.84V496.78H64.01V497.47H65.18V498.15H66.35V498.84H67.52V499.55H68.69V500.35H69.86V501.16H71.03V501.96H72.20V502.77H73.37V503.21H74.54V503.58H75.71V503.96H76.89V504.34H78.06V504.72H79.23V505.09H80.40V505.28H81.57V505.44H82.74V505.60H83.91V505.76H85.08V505.92H86.25V506.08H87.42V506.24H88.59V506.36H89.76V506.43H90.93V506.51H92.11V506.58H93.28V506.65H94.45V506.73H95.62V506.80H96.79V506.87H97.96V506.95H99.13V507.02H119.20V507.41H145.96V507.81H172.72V508.10H202.82V508.40H236.27V508.69H252.67" fill="none" stroke="#b3163c" stroke-width="1.75" stroke-linejoin="miter"/>
<path d="M52.30,475.50H52.97V479.93H53.97V484.46H54.98V488.90H55.98V493.43H56.98V497.86H58.32V502.39H59.66V506.82H61.00V511.35H62.00V515.79H63.00V520.32H84.75V524.75H247.98V531.15H252.67" fill="none" stroke="#1c446f" stroke-width="1.75" stroke-linejoin="miter"/>
<path d="M52.30,475.50H53.30V483.08H54.98V490.67H57.32V498.25H58.99V505.84H61.00V513.42H63.00V521.01H76.05V528.49H82.07V536.08H252.67" fill="none" stroke="#3ba44f" stroke-width="1.75" stroke-linejoin="miter"/>
<line x1="52.30" y1="470.70" x2="52.30" y2="574.85" stroke="#111" stroke-width="1.7"/>
<line x1="51.45" y1="574.00" x2="257.50" y2="574.00" stroke="#111" stroke-width="1.7"/>
<line x1="48.90" y1="574.00" x2="52.30" y2="574.00" stroke="#111" stroke-width="1.4"/>
<text transform="translate(45.30,577.75) scale(0.7900,1)" font-size="10.7" text-anchor="end" fill="#2a2a2a" stroke="#2a2a2a" stroke-width="0.15">0</text>
<line x1="48.90" y1="549.38" x2="52.30" y2="549.38" stroke="#111" stroke-width="1.4"/>
<text transform="translate(45.30,553.12) scale(0.7900,1)" font-size="10.7" text-anchor="end" fill="#2a2a2a" stroke="#2a2a2a" stroke-width="0.15">25</text>
<line x1="48.90" y1="524.75" x2="52.30" y2="524.75" stroke="#111" stroke-width="1.4"/>
<text transform="translate(45.30,528.50) scale(0.7900,1)" font-size="10.7" text-anchor="end" fill="#2a2a2a" stroke="#2a2a2a" stroke-width="0.15">50</text>
<line x1="48.90" y1="500.12" x2="52.30" y2="500.12" stroke="#111" stroke-width="1.4"/>
<text transform="translate(45.30,503.88) scale(0.7900,1)" font-size="10.7" text-anchor="end" fill="#2a2a2a" stroke="#2a2a2a" stroke-width="0.15">75</text>
<line x1="48.90" y1="475.50" x2="52.30" y2="475.50" stroke="#111" stroke-width="1.4"/>
<text transform="translate(45.30,479.25) scale(0.7900,1)" font-size="10.7" text-anchor="end" fill="#2a2a2a" stroke="#2a2a2a" stroke-width="0.15">100</text>
<line x1="52.30" y1="574.00" x2="52.30" y2="577.40" stroke="#111" stroke-width="1.4"/>
<text transform="translate(52.30,588.40) scale(0.7900,1)" font-size="10.7" text-anchor="middle" fill="#2a2a2a" stroke="#2a2a2a" stroke-width="0.15">0</text>
<line x1="92.44" y1="574.00" x2="92.44" y2="577.40" stroke="#111" stroke-width="1.4"/>
<text transform="translate(92.44,588.40) scale(0.7900,1)" font-size="10.7" text-anchor="middle" fill="#2a2a2a" stroke="#2a2a2a" stroke-width="0.15">12</text>
<line x1="132.58" y1="574.00" x2="132.58" y2="577.40" stroke="#111" stroke-width="1.4"/>
<text transform="translate(132.58,588.40) scale(0.7900,1)" font-size="10.7" text-anchor="middle" fill="#2a2a2a" stroke="#2a2a2a" stroke-width="0.15">24</text>
<line x1="172.72" y1="574.00" x2="172.72" y2="577.40" stroke="#111" stroke-width="1.4"/>
<text transform="translate(172.72,588.40) scale(0.7900,1)" font-size="10.7" text-anchor="middle" fill="#2a2a2a" stroke="#2a2a2a" stroke-width="0.15">36</text>
<line x1="212.86" y1="574.00" x2="212.86" y2="577.40" stroke="#111" stroke-width="1.4"/>
<text transform="translate(212.86,588.40) scale(0.7900,1)" font-size="10.7" text-anchor="middle" fill="#2a2a2a" stroke="#2a2a2a" stroke-width="0.15">48</text>
<line x1="253.00" y1="574.00" x2="253.00" y2="577.40" stroke="#111" stroke-width="1.4"/>
<text transform="translate(253.00,588.40) scale(0.7900,1)" font-size="10.7" text-anchor="middle" fill="#2a2a2a" stroke="#2a2a2a" stroke-width="0.15">60</text>
<text transform="translate(28.80,522.45) rotate(-90) scale(0.8602,1)" font-size="11" text-anchor="middle" fill="#2a2a2a" stroke="#2a2a2a" stroke-width="0.45">Survival (%)</text>
<text transform="translate(152.65,606.20) scale(0.7779,1)" font-size="12" text-anchor="middle" fill="#2a2a2a" stroke="#2a2a2a" stroke-width="0.45">Months since HSCT</text>
<text transform="translate(2.50,462.30) scale(1.0000,1)" font-size="17.6" text-anchor="start" fill="#000" font-weight="bold">E</text>
<text transform="translate(155.40,462.30) scale(0.7911,1)" font-size="15" text-anchor="middle" fill="#2a2a2a" stroke="#2a2a2a" stroke-width="0.45">Hepatic comorbidity</text>
<line x1="62.20" y1="547.50" x2="74.60" y2="547.50" stroke="#b3163c" stroke-width="1.8"/>
<text transform="translate(80.70,550.40) scale(0.8335,1)" font-size="9" text-anchor="start" fill="#2a2a2a" stroke="#2a2a2a" stroke-width="0.35">No 66% (59–72%)</text>
<line x1="62.20" y1="557.10" x2="74.60" y2="557.10" stroke="#1c446f" stroke-width="1.8"/>
<text transform="translate(80.70,559.40) scale(0.8836,1)" font-size="9" text-anchor="start" fill="#2a2a2a" stroke="#2a2a2a" stroke-width="0.35">Mild 43% (21–65%)</text>
<line x1="62.20" y1="566.70" x2="74.60" y2="566.70" stroke="#3ba44f" stroke-width="1.8"/>
<text transform="translate(80.70,569.00) scale(0.8651,1)" font-size="9" text-anchor="start" fill="#2a2a2a" stroke="#2a2a2a" stroke-width="0.35">Moderate/severe 38% (12–65%)</text>
<text transform="translate(238.25,551.90) scale(0.9174,1)" font-size="9.5" text-anchor="middle" fill="#2a2a2a" stroke="#2a2a2a" stroke-width="0.25">p=0.01</text>
<text transform="translate(26.70,624.50) scale(0.8033,1)" font-size="10" text-anchor="start" fill="#2a2a2a" stroke="#2a2a2a" stroke-width="0.25">No:</text>
<text transform="translate(52.30,624.50) scale(0.8300,1)" font-size="10.7" text-anchor="middle" fill="#2a2a2a" stroke="#2a2a2a" stroke-width="0.15">233</text>
<text transform="translate(92.44,624.50) scale(0.8300,1)" font-size="10.7" text-anchor="middle" fill="#2a2a2a" stroke="#2a2a2a" stroke-width="0.15">159</text>
<text transform="translate(132.58,624.50) scale(0.8300,1)" font-size="10.7" text-anchor="middle" fill="#2a2a2a" stroke="#2a2a2a" stroke-width="0.15">148</text>
<text transform="translate(172.72,624.50) scale(0.8300,1)" font-size="10.7" text-anchor="middle" fill="#2a2a2a" stroke="#2a2a2a" stroke-width="0.15">119</text>
<text transform="translate(212.86,624.50) scale(0.8300,1)" font-size="10.7" text-anchor="middle" fill="#2a2a2a" stroke="#2a2a2a" stroke-width="0.15">101</text>
<text transform="translate(253.00,624.50) scale(0.8300,1)" font-size="10.7" text-anchor="middle" fill="#2a2a2a" stroke="#2a2a2a" stroke-width="0.15">80</text>
<text transform="translate(19.80,635.40) scale(0.9188,1)" font-size="10" text-anchor="start" fill="#2a2a2a" stroke="#2a2a2a" stroke-width="0.25">Mild:</text>
<text transform="translate(52.30,635.40) scale(0.8300,1)" font-size="10.7" text-anchor="middle" fill="#2a2a2a" stroke="#2a2a2a" stroke-width="0.15">22</text>
<text transform="translate(92.44,635.40) scale(0.8300,1)" font-size="10.7" text-anchor="middle" fill="#2a2a2a" stroke="#2a2a2a" stroke-width="0.15">11</text>
<text transform="translate(132.58,635.40) scale(0.8300,1)" font-size="10.7" text-anchor="middle" fill="#2a2a2a" stroke="#2a2a2a" stroke-width="0.15">10</text>
<text transform="translate(172.72,635.40) scale(0.8300,1)" font-size="10.7" text-anchor="middle" fill="#2a2a2a" stroke="#2a2a2a" stroke-width="0.15">8</text>
<text transform="translate(212.86,635.40) scale(0.8300,1)" font-size="10.7" text-anchor="middle" fill="#2a2a2a" stroke="#2a2a2a" stroke-width="0.15">7</text>
<text transform="translate(253.00,635.40) scale(0.8300,1)" font-size="10.7" text-anchor="middle" fill="#2a2a2a" stroke="#2a2a2a" stroke-width="0.15">6</text>
<text transform="translate(0.80,646.60) scale(0.8639,1)" font-size="10" text-anchor="start" fill="#2a2a2a" stroke="#2a2a2a" stroke-width="0.25">Moderate/</text>
<text transform="translate(52.30,646.60) scale(0.8300,1)" font-size="10.7" text-anchor="middle" fill="#2a2a2a" stroke="#2a2a2a" stroke-width="0.15">13</text>
<text transform="translate(92.44,646.60) scale(0.8300,1)" font-size="10.7" text-anchor="middle" fill="#2a2a2a" stroke="#2a2a2a" stroke-width="0.15">5</text>
<text transform="translate(132.58,646.60) scale(0.8300,1)" font-size="10.7" text-anchor="middle" fill="#2a2a2a" stroke="#2a2a2a" stroke-width="0.15">5</text>
<text transform="translate(172.72,646.60) scale(0.8300,1)" font-size="10.7" text-anchor="middle" fill="#2a2a2a" stroke="#2a2a2a" stroke-width="0.15">4</text>
<text transform="translate(212.86,646.60) scale(0.8300,1)" font-size="10.7" text-anchor="middle" fill="#2a2a2a" stroke="#2a2a2a" stroke-width="0.15">2</text>
<text transform="translate(253.00,646.60) scale(0.8300,1)" font-size="10.7" text-anchor="middle" fill="#2a2a2a" stroke="#2a2a2a" stroke-width="0.15">1</text>
<text transform="translate(12.90,656.50) scale(0.8020,1)" font-size="10" text-anchor="start" fill="#2a2a2a" stroke="#2a2a2a" stroke-width="0.25">severe:</text>
<path d="M314.30,475.30H315.47V475.46H316.64V477.15H317.81V479.08H318.98V481.03H320.15V482.77H321.32V484.54H322.50V486.35H323.67V487.71H324.84V488.77H326.01V489.24H327.18V489.71H328.35V490.39H329.52V491.12H330.69V491.84H331.86V492.38H333.03V492.78H334.20V493.18H335.37V493.58H336.54V493.90H337.71V494.10H338.89V494.31H340.06V494.52H341.23V494.67H342.40V494.76H343.57V494.85H344.74V494.93H345.91V495.02H347.08V495.11H348.25V495.20H349.42V495.28H350.59V495.37H351.76V495.41H352.93V495.46H354.11V495.51H355.28V495.55H356.45V495.60H357.62V495.65H358.79V495.69H359.96V495.74H361.13V495.79H472.52V497.15H514.67V516.60H472.52V513.85H361.13V513.78H359.96V513.70H358.79V513.63H357.62V513.56H356.45V513.48H355.28V513.41H354.11V513.34H352.93V513.26H351.76V513.19H350.59V513.07H349.42V512.94H348.25V512.81H347.08V512.68H345.91V512.56H344.74V512.43H343.57V512.30H342.40V512.17H341.23V511.95H340.06V511.65H338.89V511.36H337.71V511.07H336.54V510.62H335.37V510.06H334.20V509.50H333.03V508.94H331.86V508.18H330.69V507.15H329.52V506.11H328.35V505.13H327.18V504.45H326.01V503.77H324.84V502.23H323.67V500.23H322.50V497.50H321.32V494.73H320.15V491.92H318.98V488.57H317.81V484.89H316.64V480.94H315.47V475.30H314.30Z" fill="rgba(226,62,108,0.30)"/>
<path d="M314.30,475.30H315.47V475.94H316.64V478.31H317.81V481.02H318.98V484.91H320.15V488.34H321.32V489.97H322.50V490.68H323.67V491.02H324.84V491.29H326.01V491.39H327.18V491.49H328.35V491.58H329.52V492.27H330.69V492.95H331.86V493.42H333.03V493.72H334.20V494.02H335.37V494.32H336.54V494.65H337.71V495.00H338.89V495.36H340.06V495.86H341.23V497.29H377.52V498.86H407.29V499.62H428.03V501.26H514.67V520.40H428.03V518.08H407.29V516.85H377.52V514.50H341.23V512.58H340.06V511.90H338.89V511.41H337.71V510.92H336.54V510.48H335.37V510.06H334.20V509.65H333.03V509.23H331.86V508.59H330.69V507.64H329.52V506.69H328.35V506.55H327.18V506.41H326.01V506.26H324.84V505.88H323.67V505.41H322.50V504.41H321.32V502.11H320.15V497.13H318.98V491.13H317.81V486.50H316.64V481.68H315.47V475.30H314.30Z" fill="rgba(40,100,160,0.28)"/>
<path d="M314.30,475.30H315.47V477.59H316.64V481.41H317.81V487.19H318.98V491.49H320.15V492.69H321.32V493.50H322.50V494.01H323.67V494.52H324.84V495.09H326.01V495.84H327.18V496.58H328.35V497.33H329.52V500.71H330.69V503.34H331.86V504.01H333.03V504.68H334.20V505.20H335.37V505.70H336.54V506.20H337.71V506.58H338.89V506.88H340.06V507.18H341.23V507.52H342.40V507.90H343.57V508.28H344.74V508.66H388.22V509.61H415.32V510.99H454.46V512.67H510.65V514.80H514.67V537.46H510.65V534.30H454.46V531.86H415.32V529.90H388.22V528.35H344.74V527.86H343.57V527.37H342.40V526.88H341.23V526.45H340.06V526.06H338.89V525.67H337.71V525.18H336.54V524.54H335.37V523.90H334.20V523.22H333.03V522.36H331.86V521.49H330.69V518.11H329.52V513.70H328.35V512.71H327.18V511.72H326.01V510.73H324.84V509.96H323.67V509.27H322.50V508.58H321.32V507.49H320.15V505.85H318.98V499.88H317.81V491.31H316.64V484.85H315.47V475.30H314.30Z" fill="rgba(90,200,100,0.28)"/>
<path d="M314.30,475.30H315.47V478.06H316.64V480.83H317.81V483.59H318.98V486.21H320.15V488.45H321.32V490.70H322.50V492.94H323.67V494.61H324.84V495.89H326.01V496.46H327.18V497.03H328.35V497.86H329.52V498.73H330.69V499.60H331.86V500.25H333.03V500.72H334.20V501.20H335.37V501.68H336.54V502.05H337.71V502.30H338.89V502.55H340.06V502.80H341.23V502.98H342.40V503.09H343.57V503.20H344.74V503.30H345.91V503.41H347.08V503.52H348.25V503.63H349.42V503.73H350.59V503.83H351.76V503.89H352.93V503.95H354.11V504.01H355.28V504.07H356.45V504.13H357.62V504.19H358.79V504.25H359.96V504.31H361.13V504.37H472.52V506.39H514.67" fill="none" stroke="#b3163c" stroke-width="1.75" stroke-linejoin="miter"/>
<path d="M314.30,475.30H315.47V478.75H316.64V482.32H317.81V485.97H318.98V490.89H320.15V495.09H321.32V497.05H322.50V497.90H323.67V498.30H324.84V498.63H326.01V498.75H327.18V498.87H328.35V498.99H329.52V499.80H330.69V500.61H331.86V501.17H333.03V501.52H334.20V501.88H335.37V502.24H336.54V502.62H337.71V503.04H338.89V503.46H340.06V504.05H341.23V505.72H377.52V507.67H407.29V508.66H428.03V510.63H514.67" fill="none" stroke="#1c446f" stroke-width="1.75" stroke-linejoin="miter"/>
<path d="M314.30,475.30H315.47V481.35H316.64V486.53H317.81V493.76H318.98V498.92H320.15V500.35H321.32V501.31H322.50V501.91H323.67V502.51H324.84V503.18H326.01V504.06H327.18V504.93H328.35V505.80H329.52V509.71H330.69V512.73H331.86V513.50H333.03V514.27H334.20V514.87H335.37V515.45H336.54V516.02H337.71V516.46H338.89V516.80H340.06V517.15H341.23V517.53H342.40V517.97H343.57V518.41H344.74V518.85H388.22V520.11H415.32V521.79H454.46V523.86H510.65V526.53H514.67" fill="none" stroke="#3ba44f" stroke-width="1.75" stroke-linejoin="miter"/>
<line x1="314.30" y1="470.50" x2="314.30" y2="574.85" stroke="#111" stroke-width="1.7"/>
<line x1="313.45" y1="574.00" x2="519.50" y2="574.00" stroke="#111" stroke-width="1.7"/>
<line x1="310.90" y1="574.00" x2="314.30" y2="574.00" stroke="#111" stroke-width="1.4"/>
<text transform="translate(307.30,577.75) scale(0.7900,1)" font-size="10.7" text-anchor="end" fill="#2a2a2a" stroke="#2a2a2a" stroke-width="0.15">0</text>
<line x1="310.90" y1="549.33" x2="314.30" y2="549.33" stroke="#111" stroke-width="1.4"/>
<text transform="translate(307.30,553.08) scale(0.7900,1)" font-size="10.7" text-anchor="end" fill="#2a2a2a" stroke="#2a2a2a" stroke-width="0.15">25</text>
<line x1="310.90" y1="524.65" x2="314.30" y2="524.65" stroke="#111" stroke-width="1.4"/>
<text transform="translate(307.30,528.40) scale(0.7900,1)" font-size="10.7" text-anchor="end" fill="#2a2a2a" stroke="#2a2a2a" stroke-width="0.15">50</text>
<line x1="310.90" y1="499.98" x2="314.30" y2="499.98" stroke="#111" stroke-width="1.4"/>
<text transform="translate(307.30,503.73) scale(0.7900,1)" font-size="10.7" text-anchor="end" fill="#2a2a2a" stroke="#2a2a2a" stroke-width="0.15">75</text>
<line x1="310.90" y1="475.30" x2="314.30" y2="475.30" stroke="#111" stroke-width="1.4"/>
<text transform="translate(307.30,479.05) scale(0.7900,1)" font-size="10.7" text-anchor="end" fill="#2a2a2a" stroke="#2a2a2a" stroke-width="0.15">100</text>
<line x1="314.30" y1="574.00" x2="314.30" y2="577.40" stroke="#111" stroke-width="1.4"/>
<text transform="translate(314.30,588.40) scale(0.7900,1)" font-size="10.7" text-anchor="middle" fill="#2a2a2a" stroke="#2a2a2a" stroke-width="0.15">0</text>
<line x1="354.44" y1="574.00" x2="354.44" y2="577.40" stroke="#111" stroke-width="1.4"/>
<text transform="translate(354.44,588.40) scale(0.7900,1)" font-size="10.7" text-anchor="middle" fill="#2a2a2a" stroke="#2a2a2a" stroke-width="0.15">12</text>
<line x1="394.58" y1="574.00" x2="394.58" y2="577.40" stroke="#111" stroke-width="1.4"/>
<text transform="translate(394.58,588.40) scale(0.7900,1)" font-size="10.7" text-anchor="middle" fill="#2a2a2a" stroke="#2a2a2a" stroke-width="0.15">24</text>
<line x1="434.72" y1="574.00" x2="434.72" y2="577.40" stroke="#111" stroke-width="1.4"/>
<text transform="translate(434.72,588.40) scale(0.7900,1)" font-size="10.7" text-anchor="middle" fill="#2a2a2a" stroke="#2a2a2a" stroke-width="0.15">36</text>
<line x1="474.86" y1="574.00" x2="474.86" y2="577.40" stroke="#111" stroke-width="1.4"/>
<text transform="translate(474.86,588.40) scale(0.7900,1)" font-size="10.7" text-anchor="middle" fill="#2a2a2a" stroke="#2a2a2a" stroke-width="0.15">48</text>
<line x1="515.00" y1="574.00" x2="515.00" y2="577.40" stroke="#111" stroke-width="1.4"/>
<text transform="translate(515.00,588.40) scale(0.7900,1)" font-size="10.7" text-anchor="middle" fill="#2a2a2a" stroke="#2a2a2a" stroke-width="0.15">60</text>
<text transform="translate(290.00,522.35) rotate(-90) scale(0.8602,1)" font-size="11" text-anchor="middle" fill="#2a2a2a" stroke="#2a2a2a" stroke-width="0.45">Survival (%)</text>
<text transform="translate(414.65,606.20) scale(0.7779,1)" font-size="12" text-anchor="middle" fill="#2a2a2a" stroke="#2a2a2a" stroke-width="0.45">Months since HSCT</text>
<text transform="translate(272.40,462.20) scale(1.0000,1)" font-size="17.6" text-anchor="start" fill="#000" font-weight="bold">F</text>
<text transform="translate(416.55,461.90) scale(0.7717,1)" font-size="15" text-anchor="middle" fill="#2a2a2a" stroke="#2a2a2a" stroke-width="0.45">Number of IEI associated complications</text>
<line x1="323.90" y1="548.30" x2="336.60" y2="548.30" stroke="#b3163c" stroke-width="1.8"/>
<text transform="translate(343.30,551.30) scale(0.8696,1)" font-size="9" text-anchor="start" fill="#2a2a2a" stroke="#2a2a2a" stroke-width="0.35">0 68% (58–78%)</text>
<line x1="323.90" y1="557.80" x2="336.60" y2="557.80" stroke="#1c446f" stroke-width="1.8"/>
<text transform="translate(343.30,560.80) scale(0.8696,1)" font-size="9" text-anchor="start" fill="#2a2a2a" stroke="#2a2a2a" stroke-width="0.35">1 64% (54–74%)</text>
<line x1="323.90" y1="567.40" x2="336.60" y2="567.40" stroke="#3ba44f" stroke-width="1.8"/>
<text transform="translate(343.30,570.40) scale(0.8988,1)" font-size="9" text-anchor="start" fill="#2a2a2a" stroke="#2a2a2a" stroke-width="0.35">≥2 48% (37–60%)</text>
<text transform="translate(497.80,551.30) scale(0.9421,1)" font-size="9.5" text-anchor="middle" fill="#2a2a2a" stroke="#2a2a2a" stroke-width="0.25">p=0.029</text>
<text transform="translate(294.40,624.40) scale(1.0792,1)" font-size="10" text-anchor="start" fill="#2a2a2a" stroke="#2a2a2a" stroke-width="0.25">0:</text>
<text transform="translate(314.30,624.40) scale(0.8300,1)" font-size="10.7" text-anchor="middle" fill="#2a2a2a" stroke="#2a2a2a" stroke-width="0.15">87</text>
<text transform="translate(354.44,624.40) scale(0.8300,1)" font-size="10.7" text-anchor="middle" fill="#2a2a2a" stroke="#2a2a2a" stroke-width="0.15">61</text>
<text transform="translate(394.58,624.40) scale(0.8300,1)" font-size="10.7" text-anchor="middle" fill="#2a2a2a" stroke="#2a2a2a" stroke-width="0.15">56</text>
<text transform="translate(434.72,624.40) scale(0.8300,1)" font-size="10.7" text-anchor="middle" fill="#2a2a2a" stroke="#2a2a2a" stroke-width="0.15">47</text>
<text transform="translate(474.86,624.40) scale(0.8300,1)" font-size="10.7" text-anchor="middle" fill="#2a2a2a" stroke="#2a2a2a" stroke-width="0.15">39</text>
<text transform="translate(515.00,624.40) scale(0.8300,1)" font-size="10.7" text-anchor="middle" fill="#2a2a2a" stroke="#2a2a2a" stroke-width="0.15">30</text>
<text transform="translate(295.60,635.50) scale(0.9353,1)" font-size="10" text-anchor="start" fill="#2a2a2a" stroke="#2a2a2a" stroke-width="0.25">1:</text>
<text transform="translate(314.30,635.50) scale(0.8300,1)" font-size="10.7" text-anchor="middle" fill="#2a2a2a" stroke="#2a2a2a" stroke-width="0.15">96</text>
<text transform="translate(354.44,635.50) scale(0.8300,1)" font-size="10.7" text-anchor="middle" fill="#2a2a2a" stroke="#2a2a2a" stroke-width="0.15">64</text>
<text transform="translate(394.58,635.50) scale(0.8300,1)" font-size="10.7" text-anchor="middle" fill="#2a2a2a" stroke="#2a2a2a" stroke-width="0.15">60</text>
<text transform="translate(434.72,635.50) scale(0.8300,1)" font-size="10.7" text-anchor="middle" fill="#2a2a2a" stroke="#2a2a2a" stroke-width="0.15">50</text>
<text transform="translate(474.86,635.50) scale(0.8300,1)" font-size="10.7" text-anchor="middle" fill="#2a2a2a" stroke="#2a2a2a" stroke-width="0.15">44</text>
<text transform="translate(515.00,635.50) scale(0.8300,1)" font-size="10.7" text-anchor="middle" fill="#2a2a2a" stroke="#2a2a2a" stroke-width="0.15">36</text>
<text transform="translate(288.10,646.70) scale(1.1064,1)" font-size="10" text-anchor="start" fill="#2a2a2a" stroke="#2a2a2a" stroke-width="0.25">≥2:</text>
<text transform="translate(314.30,646.70) scale(0.8300,1)" font-size="10.7" text-anchor="middle" fill="#2a2a2a" stroke="#2a2a2a" stroke-width="0.15">83</text>
<text transform="translate(354.44,646.70) scale(0.8300,1)" font-size="10.7" text-anchor="middle" fill="#2a2a2a" stroke="#2a2a2a" stroke-width="0.15">46</text>
<text transform="translate(394.58,646.70) scale(0.8300,1)" font-size="10.7" text-anchor="middle" fill="#2a2a2a" stroke="#2a2a2a" stroke-width="0.15">39</text>
<text transform="translate(434.72,646.70) scale(0.8300,1)" font-size="10.7" text-anchor="middle" fill="#2a2a2a" stroke="#2a2a2a" stroke-width="0.15">31</text>
<text transform="translate(474.86,646.70) scale(0.8300,1)" font-size="10.7" text-anchor="middle" fill="#2a2a2a" stroke="#2a2a2a" stroke-width="0.15">25</text>
<text transform="translate(515.00,646.70) scale(0.8300,1)" font-size="10.7" text-anchor="middle" fill="#2a2a2a" stroke="#2a2a2a" stroke-width="0.15">19</text>
<path d="M52.40,702.40H53.57V702.77H54.74V704.79H55.91V706.97H57.08V709.22H58.25V711.42H59.42V712.79H60.60V713.52H61.77V714.26H62.94V714.88H64.11V715.34H65.28V715.80H66.45V716.39H67.62V717.73H68.79V719.08H69.96V719.59H71.13V719.77H72.30V719.94H73.47V720.12H74.64V720.31H75.81V720.50H76.99V720.70H78.16V720.90H79.33V721.13H80.50V721.43H81.67V721.73H82.84V722.03H84.01V722.25H85.18V722.27H86.35V722.29H87.52V722.31H88.69V722.33H89.86V722.35H91.03V722.37H92.21V722.39H93.38V722.41H94.55V722.43H95.72V722.45H96.89V722.47H98.06V722.49H99.23V722.51H115.62V723.55H165.80V724.47H252.77V744.60H165.80V742.92H115.62V741.35H99.23V741.31H98.06V741.27H96.89V741.23H95.72V741.20H94.55V741.16H93.38V741.12H92.21V741.08H91.03V741.05H89.86V741.01H88.69V740.97H87.52V740.93H86.35V740.90H85.18V740.86H84.01V740.55H82.84V740.13H81.67V739.70H80.50V739.28H79.33V738.94H78.16V738.65H76.99V738.37H75.81V738.09H74.64V737.82H73.47V737.56H72.30V737.30H71.13V737.05H69.96V736.32H68.79V734.39H67.62V732.45H66.45V731.59H65.28V730.90H64.11V730.21H62.94V729.29H61.77V728.19H60.60V727.08H59.42V724.97H58.25V721.48H57.08V717.68H55.91V713.66H54.74V709.14H53.57V702.40H52.40Z" fill="rgba(226,62,108,0.30)"/>
<path d="M52.40,702.40H53.57V702.91H54.74V704.54H55.91V706.18H57.08V707.94H58.25V709.85H59.42V711.80H60.60V713.47H61.77V715.11H62.94V716.60H64.11V717.91H65.28V719.23H66.45V720.30H67.62V721.33H68.79V722.36H69.96V723.09H71.13V723.69H72.30V724.29H73.47V724.89H74.64V725.39H75.81V725.80H76.99V726.22H78.16V726.63H79.33V726.94H80.50V727.09H81.67V727.25H82.84V727.40H84.01V727.55H85.18V727.71H86.35V727.86H87.52V728.02H88.69V728.15H89.86V728.18H91.03V728.20H92.21V728.22H93.38V728.25H94.55V728.27H95.72V728.29H96.89V728.32H98.06V728.34H99.23V728.36H136.03V728.44H192.22V728.71H210.28V730.22H252.77V747.76H210.28V745.71H192.22V744.98H136.03V744.63H99.23V744.59H98.06V744.55H96.89V744.51H95.72V744.47H94.55V744.44H93.38V744.40H92.21V744.36H91.03V744.32H89.86V744.29H88.69V744.10H87.52V743.90H86.35V743.70H85.18V743.49H84.01V743.29H82.84V743.08H81.67V742.88H80.50V742.67H79.33V742.28H78.16V741.74H76.99V741.20H75.81V740.66H74.64V740.01H73.47V739.23H72.30V738.44H71.13V737.65H69.96V736.70H68.79V735.34H67.62V733.98H66.45V732.55H65.28V730.79H64.11V729.01H62.94V726.95H61.77V724.67H60.60V722.30H59.42V719.44H58.25V716.53H57.08V713.69H55.91V710.82H54.74V707.48H53.57V702.40H52.40Z" fill="rgba(40,100,160,0.28)"/>
<path d="M52.40,702.40H53.57V704.51H54.74V707.30H55.91V710.14H57.08V713.41H58.25V716.04H59.42V717.74H60.60V719.45H61.77V720.69H62.94V721.94H64.11V723.19H65.28V724.15H66.45V724.99H67.62V725.83H68.79V726.68H69.96V727.35H71.13V727.96H72.30V728.57H73.47V729.18H74.64V729.66H75.81V730.06H76.99V730.46H78.16V730.86H79.33V731.17H80.50V731.37H81.67V731.57H82.84V731.77H84.01V731.96H85.18V732.16H86.35V732.36H87.52V732.56H88.69V732.74H89.86V732.82H91.03V732.89H92.21V732.97H93.38V733.05H94.55V733.13H95.72V733.21H96.89V733.28H98.06V733.36H99.23V733.44H137.03V733.81H142.72V734.93H149.41V736.06H154.09V736.84H248.08V738.02H252.77V757.77H248.08V755.58H154.09V754.57H149.41V753.13H142.72V751.68H137.03V750.95H99.23V750.84H98.06V750.73H96.89V750.63H95.72V750.52H94.55V750.42H93.38V750.31H92.21V750.21H91.03V750.10H89.86V750.00H88.69V749.76H87.52V749.50H86.35V749.25H85.18V748.99H84.01V748.74H82.84V748.48H81.67V748.22H80.50V747.97H79.33V747.57H78.16V747.06H76.99V746.55H75.81V746.04H74.64V745.41H73.47V744.63H72.30V743.86H71.13V743.08H69.96V742.21H68.79V741.12H67.62V740.03H66.45V738.94H65.28V737.70H64.11V736.06H62.94V734.41H61.77V732.76H60.60V730.47H59.42V728.17H58.25V724.53H57.08V719.82H55.91V715.48H54.74V710.74H53.57V702.40H52.40Z" fill="rgba(90,200,100,0.28)"/>
<path d="M52.40,702.40H53.57V705.86H54.74V709.10H55.91V712.17H57.08V715.17H58.25V718.00H59.42V719.73H60.60V720.65H61.77V721.56H62.94V722.33H64.11V722.90H65.28V723.47H66.45V724.19H67.62V725.82H68.79V727.45H69.96V728.07H71.13V728.28H72.30V728.50H73.47V728.71H74.64V728.94H75.81V729.18H76.99V729.42H78.16V729.66H79.33V729.95H80.50V730.31H81.67V730.66H82.84V731.02H84.01V731.29H85.18V731.32H86.35V731.34H87.52V731.37H88.69V731.40H89.86V731.43H91.03V731.46H92.21V731.49H93.38V731.52H94.55V731.54H95.72V731.57H96.89V731.60H98.06V731.63H99.23V731.66H115.62V732.96H165.80V734.25H252.77" fill="none" stroke="#b3163c" stroke-width="1.75" stroke-linejoin="miter"/>
<path d="M52.40,702.40H53.57V705.17H54.74V707.64H55.91V709.89H57.08V712.19H58.25V714.59H59.42V716.99H60.60V719.01H61.77V720.96H62.94V722.74H64.11V724.28H65.28V725.82H66.45V727.06H67.62V728.26H68.79V729.45H69.96V730.29H71.13V730.98H72.30V731.67H73.47V732.37H74.64V732.94H75.81V733.41H76.99V733.89H78.16V734.37H79.33V734.72H80.50V734.90H81.67V735.08H82.84V735.26H84.01V735.43H85.18V735.61H86.35V735.79H87.52V735.97H88.69V736.13H89.86V736.16H91.03V736.19H92.21V736.22H93.38V736.25H94.55V736.28H95.72V736.31H96.89V736.34H98.06V736.37H99.23V736.40H136.03V736.62H192.22V737.11H210.28V738.89H252.77" fill="none" stroke="#1c446f" stroke-width="1.75" stroke-linejoin="miter"/>
<path d="M52.40,702.40H53.57V707.59H54.74V711.35H55.91V714.94H57.08V718.92H58.25V722.05H59.42V724.04H60.60V726.04H61.77V727.48H62.94V728.93H64.11V730.37H65.28V731.47H66.45V732.44H67.62V733.40H68.79V734.37H69.96V735.14H71.13V735.83H72.30V736.52H73.47V737.21H74.64V737.77H75.81V738.22H76.99V738.68H78.16V739.13H79.33V739.49H80.50V739.71H81.67V739.94H82.84V740.17H84.01V740.39H85.18V740.62H86.35V740.85H87.52V741.07H88.69V741.28H89.86V741.37H91.03V741.46H92.21V741.56H93.38V741.65H94.55V741.74H95.72V741.83H96.89V741.92H98.06V742.01H99.23V742.11H137.03V742.65H142.72V743.94H149.41V745.22H154.09V746.11H248.08V747.80H252.77" fill="none" stroke="#3ba44f" stroke-width="1.75" stroke-linejoin="miter"/>
<line x1="52.40" y1="697.60" x2="52.40" y2="802.15" stroke="#111" stroke-width="1.7"/>
<line x1="51.55" y1="801.30" x2="257.60" y2="801.30" stroke="#111" stroke-width="1.7"/>
<line x1="49.00" y1="801.30" x2="52.40" y2="801.30" stroke="#111" stroke-width="1.4"/>
<text transform="translate(45.40,805.05) scale(0.7900,1)" font-size="10.7" text-anchor="end" fill="#2a2a2a" stroke="#2a2a2a" stroke-width="0.15">0</text>
<line x1="49.00" y1="776.57" x2="52.40" y2="776.57" stroke="#111" stroke-width="1.4"/>
<text transform="translate(45.40,780.32) scale(0.7900,1)" font-size="10.7" text-anchor="end" fill="#2a2a2a" stroke="#2a2a2a" stroke-width="0.15">25</text>
<line x1="49.00" y1="751.85" x2="52.40" y2="751.85" stroke="#111" stroke-width="1.4"/>
<text transform="translate(45.40,755.60) scale(0.7900,1)" font-size="10.7" text-anchor="end" fill="#2a2a2a" stroke="#2a2a2a" stroke-width="0.15">50</text>
<line x1="49.00" y1="727.12" x2="52.40" y2="727.12" stroke="#111" stroke-width="1.4"/>
<text transform="translate(45.40,730.88) scale(0.7900,1)" font-size="10.7" text-anchor="end" fill="#2a2a2a" stroke="#2a2a2a" stroke-width="0.15">75</text>
<line x1="49.00" y1="702.40" x2="52.40" y2="702.40" stroke="#111" stroke-width="1.4"/>
<text transform="translate(45.40,706.15) scale(0.7900,1)" font-size="10.7" text-anchor="end" fill="#2a2a2a" stroke="#2a2a2a" stroke-width="0.15">100</text>
<line x1="52.40" y1="801.30" x2="52.40" y2="804.70" stroke="#111" stroke-width="1.4"/>
<text transform="translate(52.40,816.20) scale(0.7900,1)" font-size="10.7" text-anchor="middle" fill="#2a2a2a" stroke="#2a2a2a" stroke-width="0.15">0</text>
<line x1="92.54" y1="801.30" x2="92.54" y2="804.70" stroke="#111" stroke-width="1.4"/>
<text transform="translate(92.54,816.20) scale(0.7900,1)" font-size="10.7" text-anchor="middle" fill="#2a2a2a" stroke="#2a2a2a" stroke-width="0.15">12</text>
<line x1="132.68" y1="801.30" x2="132.68" y2="804.70" stroke="#111" stroke-width="1.4"/>
<text transform="translate(132.68,816.20) scale(0.7900,1)" font-size="10.7" text-anchor="middle" fill="#2a2a2a" stroke="#2a2a2a" stroke-width="0.15">24</text>
<line x1="172.82" y1="801.30" x2="172.82" y2="804.70" stroke="#111" stroke-width="1.4"/>
<text transform="translate(172.82,816.20) scale(0.7900,1)" font-size="10.7" text-anchor="middle" fill="#2a2a2a" stroke="#2a2a2a" stroke-width="0.15">36</text>
<line x1="212.96" y1="801.30" x2="212.96" y2="804.70" stroke="#111" stroke-width="1.4"/>
<text transform="translate(212.96,816.20) scale(0.7900,1)" font-size="10.7" text-anchor="middle" fill="#2a2a2a" stroke="#2a2a2a" stroke-width="0.15">48</text>
<line x1="253.10" y1="801.30" x2="253.10" y2="804.70" stroke="#111" stroke-width="1.4"/>
<text transform="translate(253.10,816.20) scale(0.7900,1)" font-size="10.7" text-anchor="middle" fill="#2a2a2a" stroke="#2a2a2a" stroke-width="0.15">60</text>
<text transform="translate(20.40,749.55) rotate(-90) scale(0.8602,1)" font-size="11" text-anchor="middle" fill="#2a2a2a" stroke="#2a2a2a" stroke-width="0.45">Survival (%)</text>
<text transform="translate(152.75,832.30) scale(0.7779,1)" font-size="12" text-anchor="middle" fill="#2a2a2a" stroke="#2a2a2a" stroke-width="0.45">Months since HSCT</text>
<text transform="translate(1.70,688.10) scale(1.0000,1)" font-size="17.6" text-anchor="start" fill="#000" font-weight="bold">G</text>
<text transform="translate(147.25,687.50) scale(0.6780,1)" font-size="15" text-anchor="middle" fill="#2a2a2a" stroke="#2a2a2a" stroke-width="0.45">HCT-CI</text>
<line x1="62.40" y1="770.30" x2="75.90" y2="770.30" stroke="#b3163c" stroke-width="1.8"/>
<text transform="translate(81.90,773.50) scale(0.8148,1)" font-size="9" text-anchor="start" fill="#2a2a2a" stroke="#2a2a2a" stroke-width="0.35">HSCT-CI 0 68% (57–78%)</text>
<line x1="62.40" y1="781.80" x2="75.90" y2="781.80" stroke="#1c446f" stroke-width="1.8"/>
<text transform="translate(81.90,784.70) scale(0.8195,1)" font-size="9" text-anchor="start" fill="#2a2a2a" stroke="#2a2a2a" stroke-width="0.35">HSCT-CI 1–2 63% (54–72%)</text>
<line x1="62.40" y1="792.90" x2="75.90" y2="792.90" stroke="#3ba44f" stroke-width="1.8"/>
<text transform="translate(81.90,795.50) scale(0.8366,1)" font-size="9" text-anchor="start" fill="#2a2a2a" stroke="#2a2a2a" stroke-width="0.35">HSCT-CI &gt;2 54% (44–64%)</text>
<text transform="translate(240.00,775.20) scale(0.9478,1)" font-size="9.5" text-anchor="middle" fill="#2a2a2a" stroke="#2a2a2a" stroke-width="0.25">p=0.168</text>
<text transform="translate(8.10,850.40) scale(0.8753,1)" font-size="7.8" text-anchor="start" fill="#2a2a2a" stroke="#2a2a2a" stroke-width="0.25">HSCT-CI 0:</text>
<text transform="translate(54.80,850.40) scale(0.8300,1)" font-size="10.7" text-anchor="middle" fill="#2a2a2a" stroke="#2a2a2a" stroke-width="0.15">85</text>
<text transform="translate(92.54,850.40) scale(0.8300,1)" font-size="10.7" text-anchor="middle" fill="#2a2a2a" stroke="#2a2a2a" stroke-width="0.15">57</text>
<text transform="translate(132.68,850.40) scale(0.8300,1)" font-size="10.7" text-anchor="middle" fill="#2a2a2a" stroke="#2a2a2a" stroke-width="0.15">50</text>
<text transform="translate(172.82,850.40) scale(0.8300,1)" font-size="10.7" text-anchor="middle" fill="#2a2a2a" stroke="#2a2a2a" stroke-width="0.15">43</text>
<text transform="translate(212.96,850.40) scale(0.8300,1)" font-size="10.7" text-anchor="middle" fill="#2a2a2a" stroke="#2a2a2a" stroke-width="0.15">34</text>
<text transform="translate(253.10,850.40) scale(0.8300,1)" font-size="10.7" text-anchor="middle" fill="#2a2a2a" stroke="#2a2a2a" stroke-width="0.15">27</text>
<text transform="translate(0.60,860.70) scale(0.8733,1)" font-size="7.8" text-anchor="start" fill="#2a2a2a" stroke="#2a2a2a" stroke-width="0.25">HSCT-CI 1–2:</text>
<text transform="translate(55.20,860.70) scale(0.8300,1)" font-size="10.7" text-anchor="middle" fill="#2a2a2a" stroke="#2a2a2a" stroke-width="0.15">124</text>
<text transform="translate(92.54,860.70) scale(0.8300,1)" font-size="10.7" text-anchor="middle" fill="#2a2a2a" stroke="#2a2a2a" stroke-width="0.15">81</text>
<text transform="translate(132.68,860.70) scale(0.8300,1)" font-size="10.7" text-anchor="middle" fill="#2a2a2a" stroke="#2a2a2a" stroke-width="0.15">75</text>
<text transform="translate(172.82,860.70) scale(0.8300,1)" font-size="10.7" text-anchor="middle" fill="#2a2a2a" stroke="#2a2a2a" stroke-width="0.15">64</text>
<text transform="translate(212.96,860.70) scale(0.8300,1)" font-size="10.7" text-anchor="middle" fill="#2a2a2a" stroke="#2a2a2a" stroke-width="0.15">56</text>
<text transform="translate(253.10,860.70) scale(0.8300,1)" font-size="10.7" text-anchor="middle" fill="#2a2a2a" stroke="#2a2a2a" stroke-width="0.15">42</text>
<text transform="translate(1.50,871.00) scale(0.9341,1)" font-size="7.8" text-anchor="start" fill="#2a2a2a" stroke="#2a2a2a" stroke-width="0.25">HSCT-CI &gt;2:</text>
<text transform="translate(55.20,871.00) scale(0.8300,1)" font-size="10.7" text-anchor="middle" fill="#2a2a2a" stroke="#2a2a2a" stroke-width="0.15">104</text>
<text transform="translate(92.54,871.00) scale(0.8300,1)" font-size="10.7" text-anchor="middle" fill="#2a2a2a" stroke="#2a2a2a" stroke-width="0.15">62</text>
<text transform="translate(132.68,871.00) scale(0.8300,1)" font-size="10.7" text-anchor="middle" fill="#2a2a2a" stroke="#2a2a2a" stroke-width="0.15">58</text>
<text transform="translate(172.82,871.00) scale(0.8300,1)" font-size="10.7" text-anchor="middle" fill="#2a2a2a" stroke="#2a2a2a" stroke-width="0.15">41</text>
<text transform="translate(212.96,871.00) scale(0.8300,1)" font-size="10.7" text-anchor="middle" fill="#2a2a2a" stroke="#2a2a2a" stroke-width="0.15">33</text>
<text transform="translate(253.10,871.00) scale(0.8300,1)" font-size="10.7" text-anchor="middle" fill="#2a2a2a" stroke="#2a2a2a" stroke-width="0.15">27</text>
<path d="M314.00,702.20H315.17V704.46H316.34V707.60H317.51V712.44H318.68V716.87H319.85V718.49H321.02V720.23H322.20V722.26H323.37V724.01H324.54V725.57H325.71V726.31H326.88V727.05H328.05V728.25H329.22V729.79H330.39V730.94H331.56V731.84H332.73V732.27H333.90V732.69H335.07V733.12H336.24V733.54H337.41V733.94H338.59V734.34H339.76V734.75H340.93V735.12H342.10V735.35H343.27V735.58H344.44V735.81H345.61V736.04H346.78V736.23H347.95V736.42H349.12V736.61H350.29V736.80H351.46V736.83H352.63V736.83H353.81V736.84H354.98V736.85H356.15V736.86H357.32V736.86H358.49V736.87H359.66V736.88H360.83V736.88H362.00V736.89H400.97V737.17H416.36V738.40H454.49V738.88H511.36V739.69H514.37V755.74H511.36V754.42H454.49V753.62H416.36V752.07H400.97V751.50H362.00V751.48H360.83V751.47H359.66V751.45H358.49V751.44H357.32V751.42H356.15V751.41H354.98V751.39H353.81V751.38H352.63V751.36H351.46V751.32H350.29V751.09H349.12V750.86H347.95V750.63H346.78V750.39H345.61V750.11H344.44V749.83H343.27V749.55H342.10V749.27H340.93V748.81H339.76V748.33H338.59V747.84H337.41V747.35H336.24V746.84H335.07V746.32H333.90V745.80H332.73V745.29H331.56V744.19H330.39V742.79H329.22V740.91H328.05V739.45H326.88V738.54H325.71V737.62H324.54V735.69H323.37V733.53H322.20V730.97H321.02V728.76H319.85V726.69H318.68V720.88H317.51V714.14H316.34V709.25H315.17V702.20H314.00Z" fill="rgba(226,62,108,0.30)"/>
<path d="M314.00,702.20H315.17V703.31H316.34V705.94H317.51V708.53H318.68V711.01H319.85V712.90H321.02V714.56H322.20V715.59H323.37V716.63H324.54V717.64H325.71V718.65H326.88V719.66H328.05V720.52H329.22V721.27H330.39V722.02H331.56V722.68H332.73V723.11H333.90V723.55H335.07V723.99H336.24V724.42H337.41V724.84H338.59V725.26H339.76V725.67H340.93V726.07H342.10V726.36H343.27V726.66H344.44V726.95H345.61V727.24H346.78V727.45H347.95V727.66H349.12V727.87H350.29V728.08H351.46V728.14H352.63V728.17H353.81V728.21H354.98V728.24H356.15V728.28H357.32V728.32H358.49V728.35H359.66V728.39H360.83V728.42H362.00V728.46H390.27V728.67H427.73V729.44H472.55V731.23H514.37V747.06H472.55V744.55H427.73V743.38H390.27V742.94H362.00V742.89H360.83V742.84H359.66V742.79H358.49V742.74H357.32V742.68H356.15V742.63H354.98V742.58H353.81V742.53H352.63V742.48H351.46V742.40H350.29V742.13H349.12V741.87H347.95V741.60H346.78V741.33H345.61V740.96H344.44V740.58H343.27V740.21H342.10V739.84H340.93V739.33H339.76V738.80H338.59V738.27H337.41V737.74H336.24V737.19H335.07V736.62H333.90V736.06H332.73V735.50H331.56V734.66H330.39V733.70H329.22V732.73H328.05V731.61H326.88V730.29H325.71V728.97H324.54V727.63H323.37V726.25H322.20V724.86H321.02V722.60H319.85V719.97H318.68V716.40H317.51V712.41H316.34V707.77H315.17V702.20H314.00Z" fill="rgba(40,100,160,0.28)"/>
<path d="M314.00,702.20H315.17V706.89H316.34V710.91H317.51V716.72H318.68V721.84H319.85V723.69H321.02V725.67H322.20V727.97H323.37V729.93H324.54V731.68H325.71V732.50H326.88V733.33H328.05V734.66H329.22V736.37H330.39V737.65H331.56V738.66H332.73V739.13H333.90V739.60H335.07V740.07H336.24V740.54H337.41V740.98H338.59V741.43H339.76V741.87H340.93V742.29H342.10V742.55H343.27V742.80H344.44V743.06H345.61V743.31H346.78V743.52H347.95V743.73H349.12V743.94H350.29V744.15H351.46V744.19H352.63V744.20H353.81V744.21H354.98V744.23H356.15V744.24H357.32V744.25H358.49V744.26H359.66V744.27H360.83V744.28H362.00V744.29H400.97V744.72H416.36V746.11H454.49V746.75H511.36V747.82H514.37" fill="none" stroke="#b3163c" stroke-width="1.75" stroke-linejoin="miter"/>
<path d="M314.00,702.20H315.17V705.48H316.34V709.09H317.51V712.36H318.68V715.37H319.85V717.62H321.02V719.57H322.20V720.78H323.37V721.98H324.54V723.15H325.71V724.31H326.88V725.48H328.05V726.46H329.22V727.32H330.39V728.17H331.56V728.92H332.73V729.42H333.90V729.91H335.07V730.41H336.24V730.90H337.41V731.38H338.59V731.85H339.76V732.32H340.93V732.77H342.10V733.10H343.27V733.43H344.44V733.77H345.61V734.10H346.78V734.34H347.95V734.57H349.12V734.81H350.29V735.05H351.46V735.12H352.63V735.16H353.81V735.20H354.98V735.25H356.15V735.29H357.32V735.33H358.49V735.38H359.66V735.42H360.83V735.46H362.00V735.51H390.27V735.83H427.73V736.79H472.55V738.94H514.37" fill="none" stroke="#1c446f" stroke-width="1.75" stroke-linejoin="miter"/>
<line x1="314.00" y1="697.40" x2="314.00" y2="810.15" stroke="#111" stroke-width="1.7"/>
<line x1="313.15" y1="809.30" x2="519.20" y2="809.30" stroke="#111" stroke-width="1.7"/>
<line x1="310.60" y1="809.30" x2="314.00" y2="809.30" stroke="#111" stroke-width="1.4"/>
<text transform="translate(307.00,813.05) scale(0.7900,1)" font-size="10.7" text-anchor="end" fill="#2a2a2a" stroke="#2a2a2a" stroke-width="0.15">0</text>
<line x1="310.60" y1="782.52" x2="314.00" y2="782.52" stroke="#111" stroke-width="1.4"/>
<text transform="translate(307.00,786.27) scale(0.7900,1)" font-size="10.7" text-anchor="end" fill="#2a2a2a" stroke="#2a2a2a" stroke-width="0.15">25</text>
<line x1="310.60" y1="755.75" x2="314.00" y2="755.75" stroke="#111" stroke-width="1.4"/>
<text transform="translate(307.00,759.50) scale(0.7900,1)" font-size="10.7" text-anchor="end" fill="#2a2a2a" stroke="#2a2a2a" stroke-width="0.15">50</text>
<line x1="310.60" y1="728.98" x2="314.00" y2="728.98" stroke="#111" stroke-width="1.4"/>
<text transform="translate(307.00,732.73) scale(0.7900,1)" font-size="10.7" text-anchor="end" fill="#2a2a2a" stroke="#2a2a2a" stroke-width="0.15">75</text>
<line x1="310.60" y1="702.20" x2="314.00" y2="702.20" stroke="#111" stroke-width="1.4"/>
<text transform="translate(307.00,705.95) scale(0.7900,1)" font-size="10.7" text-anchor="end" fill="#2a2a2a" stroke="#2a2a2a" stroke-width="0.15">100</text>
<line x1="314.00" y1="809.30" x2="314.00" y2="812.70" stroke="#111" stroke-width="1.4"/>
<text transform="translate(314.00,823.40) scale(0.7900,1)" font-size="10.7" text-anchor="middle" fill="#2a2a2a" stroke="#2a2a2a" stroke-width="0.15">0</text>
<line x1="354.14" y1="809.30" x2="354.14" y2="812.70" stroke="#111" stroke-width="1.4"/>
<text transform="translate(354.14,823.40) scale(0.7900,1)" font-size="10.7" text-anchor="middle" fill="#2a2a2a" stroke="#2a2a2a" stroke-width="0.15">12</text>
<line x1="394.28" y1="809.30" x2="394.28" y2="812.70" stroke="#111" stroke-width="1.4"/>
<text transform="translate(394.28,823.40) scale(0.7900,1)" font-size="10.7" text-anchor="middle" fill="#2a2a2a" stroke="#2a2a2a" stroke-width="0.15">24</text>
<line x1="434.42" y1="809.30" x2="434.42" y2="812.70" stroke="#111" stroke-width="1.4"/>
<text transform="translate(434.42,823.40) scale(0.7900,1)" font-size="10.7" text-anchor="middle" fill="#2a2a2a" stroke="#2a2a2a" stroke-width="0.15">36</text>
<line x1="474.56" y1="809.30" x2="474.56" y2="812.70" stroke="#111" stroke-width="1.4"/>
<text transform="translate(474.56,823.40) scale(0.7900,1)" font-size="10.7" text-anchor="middle" fill="#2a2a2a" stroke="#2a2a2a" stroke-width="0.15">48</text>
<line x1="514.70" y1="809.30" x2="514.70" y2="812.70" stroke="#111" stroke-width="1.4"/>
<text transform="translate(514.70,823.40) scale(0.7900,1)" font-size="10.7" text-anchor="middle" fill="#2a2a2a" stroke="#2a2a2a" stroke-width="0.15">60</text>
<text transform="translate(289.70,753.45) rotate(-90) scale(0.8602,1)" font-size="11" text-anchor="middle" fill="#2a2a2a" stroke="#2a2a2a" stroke-width="0.45">Survival (%)</text>
<text transform="translate(414.35,841.20) scale(0.7779,1)" font-size="12" text-anchor="middle" fill="#2a2a2a" stroke="#2a2a2a" stroke-width="0.45">Months since HSCT</text>
<text transform="translate(272.10,687.80) scale(1.0000,1)" font-size="17.6" text-anchor="start" fill="#000" font-weight="bold">H</text>
<text transform="translate(416.40,686.90) scale(0.7063,1)" font-size="15" text-anchor="middle" fill="#2a2a2a" stroke="#2a2a2a" stroke-width="0.45">HSCT year</text>
<line x1="324.50" y1="788.75" x2="337.00" y2="788.75" stroke="#b3163c" stroke-width="1.8"/>
<text transform="translate(344.20,792.00) scale(0.8750,1)" font-size="9" text-anchor="start" fill="#2a2a2a" stroke="#2a2a2a" stroke-width="0.35">2000–2013 58% (50–65%)</text>
<line x1="324.50" y1="800.00" x2="337.00" y2="800.00" stroke="#1c446f" stroke-width="1.8"/>
<text transform="translate(344.20,803.00) scale(0.8750,1)" font-size="9" text-anchor="start" fill="#2a2a2a" stroke="#2a2a2a" stroke-width="0.35">2014–2018 66% (58–73%)</text>
<text transform="translate(501.35,791.70) scale(0.9334,1)" font-size="9.5" text-anchor="middle" fill="#2a2a2a" stroke="#2a2a2a" stroke-width="0.25">p=0.108</text>
<text transform="translate(263.60,858.80) scale(1.0067,1)" font-size="8.5" text-anchor="start" fill="#2a2a2a" stroke="#2a2a2a" stroke-width="0.25">2000-2013:</text>
<text transform="translate(315.20,858.80) scale(0.8300,1)" font-size="10.7" text-anchor="middle" fill="#2a2a2a" stroke="#2a2a2a" stroke-width="0.15">154</text>
<text transform="translate(354.14,858.80) scale(0.8300,1)" font-size="10.7" text-anchor="middle" fill="#2a2a2a" stroke="#2a2a2a" stroke-width="0.15">93</text>
<text transform="translate(394.28,858.80) scale(0.8300,1)" font-size="10.7" text-anchor="middle" fill="#2a2a2a" stroke="#2a2a2a" stroke-width="0.15">90</text>
<text transform="translate(434.42,858.80) scale(0.8300,1)" font-size="10.7" text-anchor="middle" fill="#2a2a2a" stroke="#2a2a2a" stroke-width="0.15">87</text>
<text transform="translate(474.56,858.80) scale(0.8300,1)" font-size="10.7" text-anchor="middle" fill="#2a2a2a" stroke="#2a2a2a" stroke-width="0.15">84</text>
<text transform="translate(514.70,858.80) scale(0.8300,1)" font-size="10.7" text-anchor="middle" fill="#2a2a2a" stroke="#2a2a2a" stroke-width="0.15">77</text>
<text transform="translate(263.60,870.80) scale(1.0067,1)" font-size="8.5" text-anchor="start" fill="#2a2a2a" stroke="#2a2a2a" stroke-width="0.25">2014-2018:</text>
<text transform="translate(315.20,870.80) scale(0.8300,1)" font-size="10.7" text-anchor="middle" fill="#2a2a2a" stroke="#2a2a2a" stroke-width="0.15">165</text>
<text transform="translate(354.14,870.80) scale(0.8300,1)" font-size="10.7" text-anchor="middle" fill="#2a2a2a" stroke="#2a2a2a" stroke-width="0.15">112</text>
<text transform="translate(394.28,870.80) scale(0.8300,1)" font-size="10.7" text-anchor="middle" fill="#2a2a2a" stroke="#2a2a2a" stroke-width="0.15">96</text>
<text transform="translate(434.42,870.80) scale(0.8300,1)" font-size="10.7" text-anchor="middle" fill="#2a2a2a" stroke="#2a2a2a" stroke-width="0.15">64</text>
<text transform="translate(474.56,870.80) scale(0.8300,1)" font-size="10.7" text-anchor="middle" fill="#2a2a2a" stroke="#2a2a2a" stroke-width="0.15">42</text>
<text transform="translate(514.70,870.80) scale(0.8300,1)" font-size="10.7" text-anchor="middle" fill="#2a2a2a" stroke="#2a2a2a" stroke-width="0.15">21</text>
<path d="M52.40,930.30H53.57V932.59H54.74V936.07H55.91V939.82H57.08V943.24H58.25V945.31H59.42V947.40H60.60V950.03H61.77V952.17H62.94V952.84H64.11V953.51H65.28V953.95H66.45V954.30H67.62V955.03H68.79V956.68H69.96V957.45H71.13V957.87H72.30V958.29H73.47V958.71H74.64V959.13H75.81V959.54H76.99V959.96H78.16V960.38H79.33V960.76H80.50V961.09H81.67V961.41H82.84V961.74H84.01V961.98H85.18V962.00H86.35V962.03H87.52V962.05H88.69V962.08H89.86V962.10H91.03V962.13H92.21V962.15H93.38V962.18H94.55V962.20H95.72V962.23H96.89V962.25H98.06V962.28H99.23V962.30H145.39V962.59H152.75V962.86H165.80V964.09H192.22V964.70H252.77V980.41H192.22V979.51H165.80V977.95H152.75V977.58H145.39V976.96H99.23V976.92H98.06V976.88H96.89V976.85H95.72V976.81H94.55V976.77H93.38V976.73H92.21V976.70H91.03V976.66H89.86V976.62H88.69V976.59H87.52V976.55H86.35V976.51H85.18V976.47H84.01V976.18H82.84V975.78H81.67V975.38H80.50V974.98H79.33V974.51H78.16V974.00H76.99V973.48H75.81V972.97H74.64V972.45H73.47V971.93H72.30V971.42H71.13V970.90H69.96V969.95H68.79V967.91H67.62V967.02H66.45V966.57H65.28V966.02H64.11V965.18H62.94V964.34H61.77V961.66H60.60V958.32H59.42V955.63H58.25V952.92H57.08V948.34H55.91V943.03H54.74V937.58H53.57V930.30H52.40Z" fill="rgba(226,62,108,0.30)"/>
<path d="M52.40,930.30H53.57V931.01H54.74V932.68H55.91V934.63H57.08V937.77H58.25V940.05H59.42V941.04H60.60V942.05H61.77V943.54H62.94V945.05H64.11V946.56H65.28V947.89H66.45V949.15H67.62V950.41H68.79V951.68H69.96V952.34H71.13V952.74H72.30V953.15H73.47V953.56H74.64V953.90H75.81V954.20H76.99V954.49H78.16V954.79H79.33V955.11H80.50V955.48H81.67V955.85H82.84V956.22H84.01V956.59H85.18V956.81H86.35V956.92H87.52V957.03H88.69V957.13H89.86V957.16H91.03V957.20H92.21V957.23H93.38V957.27H94.55V957.31H95.72V957.34H96.89V957.38H98.06V957.41H99.23V957.45H113.61V958.01H134.69V958.52H210.28V960.21H248.42V961.34H252.77V978.44H248.42V976.78H210.28V974.18H134.69V973.41H113.61V972.63H99.23V972.57H98.06V972.52H96.89V972.47H95.72V972.42H94.55V972.36H93.38V972.31H92.21V972.26H91.03V972.21H89.86V972.16H88.69V972.03H87.52V971.88H86.35V971.74H85.18V971.46H84.01V970.99H82.84V970.52H81.67V970.05H80.50V969.58H79.33V969.17H78.16V968.79H76.99V968.41H75.81V968.03H74.64V967.59H73.47V967.07H72.30V966.55H71.13V966.02H69.96V965.18H68.79V963.56H67.62V961.93H66.45V960.29H65.28V958.55H64.11V956.54H62.94V954.53H61.77V952.50H60.60V951.12H59.42V949.73H58.25V946.48H57.08V941.73H55.91V938.48H54.74V935.26H53.57V930.30H52.40Z" fill="rgba(40,100,160,0.28)"/>
<path d="M52.40,930.30H53.57V934.98H54.74V939.41H55.91V943.91H57.08V947.89H58.25V950.26H59.42V952.64H60.60V955.61H61.77V958.01H62.94V958.76H64.11V959.51H65.28V960.01H66.45V960.40H67.62V961.21H68.79V963.05H69.96V963.91H71.13V964.37H72.30V964.84H73.47V965.30H74.64V965.77H75.81V966.23H76.99V966.70H78.16V967.16H79.33V967.58H80.50V967.95H81.67V968.31H82.84V968.67H84.01V968.94H85.18V968.97H86.35V969.00H87.52V969.03H88.69V969.06H89.86V969.09H91.03V969.12H92.21V969.15H93.38V969.18H94.55V969.21H95.72V969.24H96.89V969.28H98.06V969.31H99.23V969.34H145.39V969.78H152.75V970.10H165.80V971.49H192.22V972.24H252.77" fill="none" stroke="#b3163c" stroke-width="1.75" stroke-linejoin="miter"/>
<path d="M52.40,930.30H53.57V933.11H54.74V935.54H55.91V938.14H57.08V942.07H58.25V944.83H59.42V946.02H60.60V947.21H61.77V948.96H62.94V950.72H64.11V952.48H65.28V954.02H66.45V955.46H67.62V956.90H68.79V958.35H69.96V959.09H71.13V959.56H72.30V960.02H73.47V960.49H74.64V960.88H75.81V961.22H76.99V961.55H78.16V961.89H79.33V962.26H80.50V962.68H81.67V963.10H82.84V963.51H84.01V963.93H85.18V964.18H86.35V964.31H87.52V964.43H88.69V964.55H89.86V964.59H91.03V964.63H92.21V964.68H93.38V964.72H94.55V964.77H95.72V964.81H96.89V964.85H98.06V964.90H99.23V964.94H113.61V965.61H134.69V966.25H210.28V968.39H248.42V969.78H252.77" fill="none" stroke="#1c446f" stroke-width="1.75" stroke-linejoin="miter"/>
<line x1="52.40" y1="925.50" x2="52.40" y2="1038.15" stroke="#111" stroke-width="1.7"/>
<line x1="51.55" y1="1037.30" x2="257.60" y2="1037.30" stroke="#111" stroke-width="1.7"/>
<line x1="49.00" y1="1037.30" x2="52.40" y2="1037.30" stroke="#111" stroke-width="1.4"/>
<text transform="translate(45.40,1041.05) scale(0.7900,1)" font-size="10.7" text-anchor="end" fill="#2a2a2a" stroke="#2a2a2a" stroke-width="0.15">0</text>
<line x1="49.00" y1="1010.55" x2="52.40" y2="1010.55" stroke="#111" stroke-width="1.4"/>
<text transform="translate(45.40,1014.30) scale(0.7900,1)" font-size="10.7" text-anchor="end" fill="#2a2a2a" stroke="#2a2a2a" stroke-width="0.15">25</text>
<line x1="49.00" y1="983.80" x2="52.40" y2="983.80" stroke="#111" stroke-width="1.4"/>
<text transform="translate(45.40,987.55) scale(0.7900,1)" font-size="10.7" text-anchor="end" fill="#2a2a2a" stroke="#2a2a2a" stroke-width="0.15">50</text>
<line x1="49.00" y1="957.05" x2="52.40" y2="957.05" stroke="#111" stroke-width="1.4"/>
<text transform="translate(45.40,960.80) scale(0.7900,1)" font-size="10.7" text-anchor="end" fill="#2a2a2a" stroke="#2a2a2a" stroke-width="0.15">75</text>
<line x1="49.00" y1="930.30" x2="52.40" y2="930.30" stroke="#111" stroke-width="1.4"/>
<text transform="translate(45.40,934.05) scale(0.7900,1)" font-size="10.7" text-anchor="end" fill="#2a2a2a" stroke="#2a2a2a" stroke-width="0.15">100</text>
<line x1="52.40" y1="1037.30" x2="52.40" y2="1040.70" stroke="#111" stroke-width="1.4"/>
<text transform="translate(52.40,1051.60) scale(0.7900,1)" font-size="10.7" text-anchor="middle" fill="#2a2a2a" stroke="#2a2a2a" stroke-width="0.15">0</text>
<line x1="92.54" y1="1037.30" x2="92.54" y2="1040.70" stroke="#111" stroke-width="1.4"/>
<text transform="translate(92.54,1051.60) scale(0.7900,1)" font-size="10.7" text-anchor="middle" fill="#2a2a2a" stroke="#2a2a2a" stroke-width="0.15">12</text>
<line x1="132.68" y1="1037.30" x2="132.68" y2="1040.70" stroke="#111" stroke-width="1.4"/>
<text transform="translate(132.68,1051.60) scale(0.7900,1)" font-size="10.7" text-anchor="middle" fill="#2a2a2a" stroke="#2a2a2a" stroke-width="0.15">24</text>
<line x1="172.82" y1="1037.30" x2="172.82" y2="1040.70" stroke="#111" stroke-width="1.4"/>
<text transform="translate(172.82,1051.60) scale(0.7900,1)" font-size="10.7" text-anchor="middle" fill="#2a2a2a" stroke="#2a2a2a" stroke-width="0.15">36</text>
<line x1="212.96" y1="1037.30" x2="212.96" y2="1040.70" stroke="#111" stroke-width="1.4"/>
<text transform="translate(212.96,1051.60) scale(0.7900,1)" font-size="10.7" text-anchor="middle" fill="#2a2a2a" stroke="#2a2a2a" stroke-width="0.15">48</text>
<line x1="253.10" y1="1037.30" x2="253.10" y2="1040.70" stroke="#111" stroke-width="1.4"/>
<text transform="translate(253.10,1051.60) scale(0.7900,1)" font-size="10.7" text-anchor="middle" fill="#2a2a2a" stroke="#2a2a2a" stroke-width="0.15">60</text>
<text transform="translate(21.00,981.50) rotate(-90) scale(0.8602,1)" font-size="11" text-anchor="middle" fill="#2a2a2a" stroke="#2a2a2a" stroke-width="0.45">Survival (%)</text>
<text transform="translate(152.75,1068.00) scale(0.7779,1)" font-size="12" text-anchor="middle" fill="#2a2a2a" stroke="#2a2a2a" stroke-width="0.45">Months since HSCT</text>
<text transform="translate(2.50,915.60) scale(1.0000,1)" font-size="17.6" text-anchor="start" fill="#000" font-weight="bold">I</text>
<text transform="translate(154.75,917.60) scale(0.7027,1)" font-size="15" text-anchor="middle" fill="#2a2a2a" stroke="#2a2a2a" stroke-width="0.45">Age at HSCT</text>
<line x1="62.40" y1="1016.60" x2="75.70" y2="1016.60" stroke="#b3163c" stroke-width="1.8"/>
<text transform="translate(82.20,1019.50) scale(0.8871,1)" font-size="9" text-anchor="start" fill="#2a2a2a" stroke="#2a2a2a" stroke-width="0.35">≥18 61% (53–68%)</text>
<line x1="62.40" y1="1028.30" x2="75.70" y2="1028.30" stroke="#1c446f" stroke-width="1.8"/>
<text transform="translate(82.20,1031.00) scale(0.8835,1)" font-size="9" text-anchor="start" fill="#2a2a2a" stroke="#2a2a2a" stroke-width="0.35">&lt;18 63% (55–71%)</text>
<text transform="translate(245.00,1021.00) scale(0.9735,1)" font-size="9.5" text-anchor="middle" fill="#2a2a2a" stroke="#2a2a2a" stroke-width="0.25">p=0.4</text>
<text transform="translate(23.70,1086.60) scale(1.1516,1)" font-size="7.3" text-anchor="start" fill="#2a2a2a" stroke="#2a2a2a" stroke-width="0.25">≥18:</text>
<text transform="translate(52.40,1086.60) scale(0.8300,1)" font-size="10.7" text-anchor="middle" fill="#2a2a2a" stroke="#2a2a2a" stroke-width="0.15">175</text>
<text transform="translate(92.54,1086.60) scale(0.8300,1)" font-size="10.7" text-anchor="middle" fill="#2a2a2a" stroke="#2a2a2a" stroke-width="0.15">109</text>
<text transform="translate(132.68,1086.60) scale(0.8300,1)" font-size="10.7" text-anchor="middle" fill="#2a2a2a" stroke="#2a2a2a" stroke-width="0.15">104</text>
<text transform="translate(172.82,1086.60) scale(0.8300,1)" font-size="10.7" text-anchor="middle" fill="#2a2a2a" stroke="#2a2a2a" stroke-width="0.15">85</text>
<text transform="translate(212.96,1086.60) scale(0.8300,1)" font-size="10.7" text-anchor="middle" fill="#2a2a2a" stroke="#2a2a2a" stroke-width="0.15">73</text>
<text transform="translate(253.10,1086.60) scale(0.8300,1)" font-size="10.7" text-anchor="middle" fill="#2a2a2a" stroke="#2a2a2a" stroke-width="0.15">55</text>
<text transform="translate(23.70,1096.80) scale(1.1311,1)" font-size="7.3" text-anchor="start" fill="#2a2a2a" stroke="#2a2a2a" stroke-width="0.25">&lt;18:</text>
<text transform="translate(52.40,1096.80) scale(0.8300,1)" font-size="10.7" text-anchor="middle" fill="#2a2a2a" stroke="#2a2a2a" stroke-width="0.15">144</text>
<text transform="translate(92.54,1096.80) scale(0.8300,1)" font-size="10.7" text-anchor="middle" fill="#2a2a2a" stroke="#2a2a2a" stroke-width="0.15">96</text>
<text transform="translate(132.68,1096.80) scale(0.8300,1)" font-size="10.7" text-anchor="middle" fill="#2a2a2a" stroke="#2a2a2a" stroke-width="0.15">82</text>
<text transform="translate(172.82,1096.80) scale(0.8300,1)" font-size="10.7" text-anchor="middle" fill="#2a2a2a" stroke="#2a2a2a" stroke-width="0.15">66</text>
<text transform="translate(212.96,1096.80) scale(0.8300,1)" font-size="10.7" text-anchor="middle" fill="#2a2a2a" stroke="#2a2a2a" stroke-width="0.15">53</text>
<text transform="translate(253.10,1096.80) scale(0.8300,1)" font-size="10.7" text-anchor="middle" fill="#2a2a2a" stroke="#2a2a2a" stroke-width="0.15">43</text>
</svg></body></html>
